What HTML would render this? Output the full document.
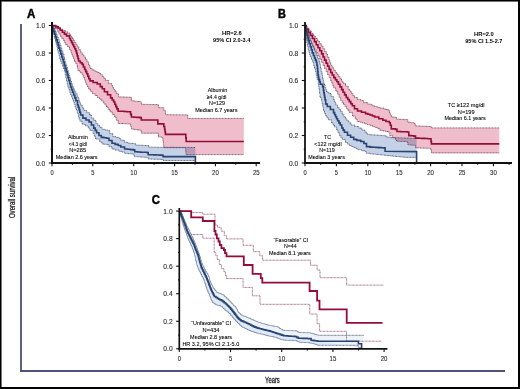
<!DOCTYPE html><html><head><meta charset="utf-8"><style>html,body{margin:0;padding:0;background:#fff;}svg{display:block;font-family:"Liberation Sans",sans-serif;}</style></head><body>
<svg width="520" height="389" viewBox="0 0 520 389">
<rect x="0" y="0" width="520" height="389" fill="#fff"/>
<polygon points="52.0,25.5 54.1,25.6 57.2,25.6 57.2,27.4 60.3,27.4 60.3,29.2 62.9,29.2 62.9,30.5 65.4,30.5 65.4,31.8 67.5,31.8 67.5,33.0 69.5,33.0 69.5,34.3 70.8,34.3 70.8,36.4 72.1,36.4 72.1,38.5 73.4,38.5 73.4,40.5 74.7,40.5 74.7,42.6 76.0,42.6 76.0,44.7 77.2,44.7 77.2,46.7 78.8,46.7 78.8,49.8 80.8,49.8 80.8,52.8 82.3,52.8 82.3,54.9 83.9,54.9 83.9,57.0 85.5,57.0 85.5,59.5 87.0,59.5 87.0,62.0 88.5,62.0 88.5,65.2 90.0,65.2 90.0,68.5 92.0,68.5 92.0,69.8 94.1,69.8 94.1,71.0 96.3,71.0 96.3,72.0 98.5,72.0 98.5,73.0 100.4,73.0 100.4,74.7 102.3,74.7 102.3,76.3 103.8,76.3 103.8,78.3 105.4,78.3 105.4,80.4 108.5,80.4 108.5,83.5 111.6,83.5 111.6,85.6 112.7,85.6 112.7,87.7 113.7,87.7 113.7,89.7 115.2,89.7 115.2,91.8 116.7,91.8 116.7,93.8 118.5,93.8 118.5,96.9 121.3,96.9 121.3,97.0 124.1,97.0 124.1,97.1 126.9,97.1 126.9,97.2 129.7,97.2 129.7,97.3 131.4,97.3 131.4,100.8 134.3,100.8 134.3,101.2 137.2,101.2 137.2,101.5 140.1,101.5 140.1,101.9 141.3,101.9 141.3,104.3 144.4,104.3 144.4,104.4 147.6,104.4 147.6,104.5 150.7,104.5 150.7,104.5 153.9,104.5 153.9,104.6 157.0,104.6 157.0,104.7 158.5,104.7 158.5,107.7 162.4,107.7 163.9,107.7 163.9,110.8 165.5,110.8 165.5,114.7 186.2,114.9 187.7,114.9 187.7,118.4 243.8,118.4 243.8,154.6 186.0,154.6 186.0,151.1 185.7,151.1 185.7,147.7 185.4,147.7 163.8,147.7 163.8,144.3 163.3,144.3 163.3,140.9 162.9,140.9 162.9,137.5 162.4,137.5 162.4,137.0 158.5,137.0 158.5,133.2 157.0,133.2 141.3,133.2 141.3,130.3 140.1,130.3 140.1,129.9 137.2,129.9 137.2,129.5 134.3,129.5 134.3,129.1 131.4,129.1 131.4,126.5 130.6,126.5 130.6,123.9 129.7,123.9 129.7,123.8 126.8,123.8 126.8,123.7 123.9,123.7 123.9,123.5 121.0,123.5 121.0,123.4 118.1,123.4 118.1,120.2 116.3,120.2 116.3,117.0 114.6,117.0 114.6,114.4 112.3,114.4 112.3,111.8 110.0,111.8 110.0,109.4 108.2,109.4 108.2,107.0 106.5,107.0 106.5,105.0 104.9,105.0 104.9,103.0 103.3,103.0 103.3,101.0 101.7,101.0 101.7,99.2 99.6,99.2 99.6,97.5 97.5,97.5 97.5,95.5 95.0,95.5 95.0,93.5 92.5,93.5 92.5,91.3 90.5,91.3 90.5,89.2 88.6,89.2 88.6,86.9 87.4,86.9 87.4,84.6 86.3,84.6 86.3,82.3 85.4,82.3 85.4,80.0 84.5,80.0 84.5,77.3 83.3,77.3 83.3,74.7 82.1,74.7 82.1,72.7 80.0,72.7 80.0,70.6 78.0,70.6 78.0,68.0 77.5,68.0 77.5,65.4 77.0,65.4 77.0,63.5 75.8,63.5 75.8,61.5 74.5,61.5 74.5,59.2 73.7,59.2 73.7,57.0 72.8,57.0 72.8,54.9 71.9,54.9 71.9,52.8 71.1,52.8 71.1,49.8 69.5,49.8 69.5,46.7 67.5,46.7 67.5,44.6 65.4,44.6 65.4,42.5 64.4,42.5 64.4,40.5 63.4,40.5 63.4,38.5 61.8,38.5 61.8,36.4 60.3,36.4 60.3,33.9 58.8,33.9 58.8,31.3 57.2,31.3 57.2,28.7 55.2,28.7 55.2,26.1 53.1,26.1 53.1,25.5 52.0,25.5" fill="#efbdcb" fill-opacity="1.0" stroke="none"/>
<polygon points="52.0,25.5 53.0,25.5 53.0,26.0 54.1,26.0 54.1,28.8 55.1,28.8 55.1,31.5 56.2,31.5 56.2,34.3 57.2,34.3 57.2,37.1 58.3,37.1 58.3,39.8 59.3,39.8 59.3,42.6 60.1,42.6 60.1,45.3 61.0,45.3 61.0,48.1 61.8,48.1 61.8,50.8 62.8,50.8 62.8,53.9 63.9,53.9 63.9,57.0 64.4,57.0 64.4,59.5 64.9,59.5 64.9,62.0 65.8,62.0 65.8,64.7 66.6,64.7 66.6,67.3 67.5,67.3 67.5,70.0 68.2,70.0 68.2,72.7 69.0,72.7 69.0,75.3 69.7,75.3 69.7,78.0 70.6,78.0 70.6,81.0 71.5,81.0 71.5,83.9 72.4,83.9 72.4,86.9 73.6,86.9 73.6,89.2 74.7,89.2 74.7,91.6 75.9,91.6 75.9,93.9 77.3,93.9 77.3,97.3 78.8,97.3 78.8,100.8 79.7,100.8 79.7,102.9 80.5,102.9 80.5,105.0 82.1,105.0 82.1,107.7 83.7,107.7 83.7,110.4 86.8,110.4 86.8,112.7 89.5,112.7 89.5,115.0 91.4,115.0 91.4,118.1 93.7,118.1 93.7,120.4 96.0,120.4 96.0,123.5 97.8,123.5 97.8,125.5 99.7,125.5 99.7,127.4 102.0,127.4 102.0,129.3 104.7,129.3 104.7,129.9 107.4,129.9 107.4,130.5 109.7,130.5 109.7,133.6 112.8,133.6 112.8,136.6 115.9,136.6 115.9,137.4 119.0,137.4 119.0,138.6 120.8,138.6 120.8,140.3 124.6,140.3 124.6,142.2 127.5,142.2 127.5,143.2 130.7,143.2 130.7,143.4 133.8,143.4 133.8,143.7 135.7,143.7 135.7,145.1 138.4,145.1 138.4,145.2 141.2,145.2 141.2,145.3 143.9,145.3 143.9,145.5 146.7,145.5 146.7,145.6 148.7,145.6 148.7,147.2 151.6,147.2 151.6,147.2 154.5,147.2 154.5,147.2 157.5,147.2 157.5,147.3 160.4,147.3 160.4,147.3 163.3,147.3 163.3,147.3 166.2,147.3 166.2,147.3 169.1,147.3 169.1,147.3 172.1,147.3 172.1,147.3 175.0,147.3 175.0,147.4 177.9,147.4 177.9,147.4 180.8,147.4 180.8,147.4 183.7,147.4 183.7,147.4 186.6,147.4 186.6,147.4 189.6,147.4 189.6,147.5 192.5,147.5 192.5,147.5 195.4,147.5 195.4,147.5 195.4,160.5 163.1,160.5 163.1,159.5 162.1,159.5 162.1,159.4 159.3,159.4 159.3,159.3 156.5,159.3 156.5,159.2 153.8,159.2 153.8,159.1 151.0,159.1 151.0,159.0 148.2,159.0 148.2,157.6 146.7,157.6 146.7,157.3 143.6,157.3 143.6,157.1 140.4,157.1 140.4,156.8 137.3,156.8 137.3,156.6 134.2,156.6 134.2,154.2 133.3,154.2 133.3,153.9 130.4,153.9 130.4,153.6 127.5,153.6 127.5,153.3 124.6,153.3 124.6,152.0 122.0,152.0 122.0,151.3 119.0,151.3 119.0,150.1 115.1,150.1 115.1,149.0 112.0,149.0 112.0,146.7 109.0,146.7 109.0,144.7 106.6,144.7 106.6,144.3 104.3,144.3 104.3,144.0 102.0,144.0 102.0,142.0 99.7,142.0 99.7,139.0 97.4,139.0 95.5,139.0 95.5,136.2 94.2,136.2 94.2,133.5 93.0,133.5 93.0,130.4 89.9,130.4 89.9,128.1 88.3,128.1 88.3,125.8 85.3,125.8 85.3,124.3 82.2,124.3 82.2,121.2 79.9,121.2 79.9,118.9 79.1,118.9 79.1,116.6 78.3,116.6 78.3,113.1 77.2,113.1 77.2,109.6 76.0,109.6 76.0,107.1 75.2,107.1 75.2,104.5 74.4,104.5 74.4,102.0 73.6,102.0 73.6,99.7 72.6,99.7 72.6,97.3 71.7,97.3 71.7,95.0 70.7,95.0 70.7,92.3 69.7,92.3 69.7,89.6 68.8,89.6 68.8,86.9 67.8,86.9 67.8,83.9 67.1,83.9 67.1,81.0 66.5,81.0 66.5,78.0 65.8,78.0 65.8,74.8 65.2,74.8 65.2,71.6 64.6,71.6 64.6,68.9 63.5,68.9 63.5,66.2 62.4,66.2 62.4,63.5 61.3,63.5 61.3,61.2 60.5,61.2 60.5,59.0 59.8,59.0 59.8,55.9 59.0,55.9 59.0,52.8 58.2,52.8 58.2,50.1 57.5,50.1 57.5,47.3 56.9,47.3 56.9,44.6 56.2,44.6 56.2,41.9 55.5,41.9 55.5,39.1 54.8,39.1 54.8,36.4 54.1,36.4 54.1,33.7 53.4,33.7 53.4,30.9 52.8,30.9 52.8,28.2 52.1,28.2 52.0,27.0" fill="#c5d1e6" fill-opacity="1.0" stroke="none" style="mix-blend-mode:multiply"/>
<polyline points="52.0,25.5 54.1,25.6 57.2,25.6 57.2,27.4 60.3,27.4 60.3,29.2 62.9,29.2 62.9,30.5 65.4,30.5 65.4,31.8 67.5,31.8 67.5,33.0 69.5,33.0 69.5,34.3 70.8,34.3 70.8,36.4 72.1,36.4 72.1,38.5 73.4,38.5 73.4,40.5 74.7,40.5 74.7,42.6 76.0,42.6 76.0,44.7 77.2,44.7 77.2,46.7 78.8,46.7 78.8,49.8 80.8,49.8 80.8,52.8 82.3,52.8 82.3,54.9 83.9,54.9 83.9,57.0 85.5,57.0 85.5,59.5 87.0,59.5 87.0,62.0 88.5,62.0 88.5,65.2 90.0,65.2 90.0,68.5 92.0,68.5 92.0,69.8 94.1,69.8 94.1,71.0 96.3,71.0 96.3,72.0 98.5,72.0 98.5,73.0 100.4,73.0 100.4,74.7 102.3,74.7 102.3,76.3 103.8,76.3 103.8,78.3 105.4,78.3 105.4,80.4 108.5,80.4 108.5,83.5 111.6,83.5 111.6,85.6 112.7,85.6 112.7,87.7 113.7,87.7 113.7,89.7 115.2,89.7 115.2,91.8 116.7,91.8 116.7,93.8 118.5,93.8 118.5,96.9 121.3,96.9 121.3,97.0 124.1,97.0 124.1,97.1 126.9,97.1 126.9,97.2 129.7,97.2 129.7,97.3 131.4,97.3 131.4,100.8 134.3,100.8 134.3,101.2 137.2,101.2 137.2,101.5 140.1,101.5 140.1,101.9 141.3,101.9 141.3,104.3 144.4,104.3 144.4,104.4 147.6,104.4 147.6,104.5 150.7,104.5 150.7,104.5 153.9,104.5 153.9,104.6 157.0,104.6 157.0,104.7 158.5,104.7 158.5,107.7 162.4,107.7 163.9,107.7 163.9,110.8 165.5,110.8 165.5,114.7 186.2,114.9 187.7,114.9 187.7,118.4 243.8,118.4" fill="none" stroke="#6e3a4c" stroke-width="0.8" stroke-linejoin="miter" stroke-dasharray="1 0.5"/>
<polyline points="52.0,25.5 53.1,25.5 53.1,26.1 55.2,26.1 55.2,28.7 57.2,28.7 57.2,31.3 58.8,31.3 58.8,33.9 60.3,33.9 60.3,36.4 61.8,36.4 61.8,38.5 63.4,38.5 63.4,40.5 64.4,40.5 64.4,42.5 65.4,42.5 65.4,44.6 67.5,44.6 67.5,46.7 69.5,46.7 69.5,49.8 71.1,49.8 71.1,52.8 71.9,52.8 71.9,54.9 72.8,54.9 72.8,57.0 73.7,57.0 73.7,59.2 74.5,59.2 74.5,61.5 75.8,61.5 75.8,63.5 77.0,63.5 77.0,65.4 77.5,65.4 77.5,68.0 78.0,68.0 78.0,70.6 80.0,70.6 80.0,72.7 82.1,72.7 82.1,74.7 83.3,74.7 83.3,77.3 84.5,77.3 84.5,80.0 85.4,80.0 85.4,82.3 86.3,82.3 86.3,84.6 87.4,84.6 87.4,86.9 88.6,86.9 88.6,89.2 90.5,89.2 90.5,91.3 92.5,91.3 92.5,93.5 95.0,93.5 95.0,95.5 97.5,95.5 97.5,97.5 99.6,97.5 99.6,99.2 101.7,99.2 101.7,101.0 103.3,101.0 103.3,103.0 104.9,103.0 104.9,105.0 106.5,105.0 106.5,107.0 108.2,107.0 108.2,109.4 110.0,109.4 110.0,111.8 112.3,111.8 112.3,114.4 114.6,114.4 114.6,117.0 116.3,117.0 116.3,120.2 118.1,120.2 118.1,123.4 121.0,123.4 121.0,123.5 123.9,123.5 123.9,123.7 126.8,123.7 126.8,123.8 129.7,123.8 129.7,123.9 130.6,123.9 130.6,126.5 131.4,126.5 131.4,129.1 134.3,129.1 134.3,129.5 137.2,129.5 137.2,129.9 140.1,129.9 140.1,130.3 141.3,130.3 141.3,133.2 157.0,133.2 158.5,133.2 158.5,137.0 162.4,137.0 162.4,137.5 162.9,137.5 162.9,140.9 163.3,140.9 163.3,144.3 163.8,144.3 163.8,147.7 185.4,147.7 185.7,147.7 185.7,151.1 186.0,151.1 186.0,154.6 243.8,154.6" fill="none" stroke="#6e3a4c" stroke-width="0.8" stroke-linejoin="miter" stroke-dasharray="1 0.5"/>
<polyline points="52.0,25.5 53.0,25.5 53.0,26.0 54.1,26.0 54.1,28.8 55.1,28.8 55.1,31.5 56.2,31.5 56.2,34.3 57.2,34.3 57.2,37.1 58.3,37.1 58.3,39.8 59.3,39.8 59.3,42.6 60.1,42.6 60.1,45.3 61.0,45.3 61.0,48.1 61.8,48.1 61.8,50.8 62.8,50.8 62.8,53.9 63.9,53.9 63.9,57.0 64.4,57.0 64.4,59.5 64.9,59.5 64.9,62.0 65.8,62.0 65.8,64.7 66.6,64.7 66.6,67.3 67.5,67.3 67.5,70.0 68.2,70.0 68.2,72.7 69.0,72.7 69.0,75.3 69.7,75.3 69.7,78.0 70.6,78.0 70.6,81.0 71.5,81.0 71.5,83.9 72.4,83.9 72.4,86.9 73.6,86.9 73.6,89.2 74.7,89.2 74.7,91.6 75.9,91.6 75.9,93.9 77.3,93.9 77.3,97.3 78.8,97.3 78.8,100.8 79.7,100.8 79.7,102.9 80.5,102.9 80.5,105.0 82.1,105.0 82.1,107.7 83.7,107.7 83.7,110.4 86.8,110.4 86.8,112.7 89.5,112.7 89.5,115.0 91.4,115.0 91.4,118.1 93.7,118.1 93.7,120.4 96.0,120.4 96.0,123.5 97.8,123.5 97.8,125.5 99.7,125.5 99.7,127.4 102.0,127.4 102.0,129.3 104.7,129.3 104.7,129.9 107.4,129.9 107.4,130.5 109.7,130.5 109.7,133.6 112.8,133.6 112.8,136.6 115.9,136.6 115.9,137.4 119.0,137.4 119.0,138.6 120.8,138.6 120.8,140.3 124.6,140.3 124.6,142.2 127.5,142.2 127.5,143.2 130.7,143.2 130.7,143.4 133.8,143.4 133.8,143.7 135.7,143.7 135.7,145.1 138.4,145.1 138.4,145.2 141.2,145.2 141.2,145.3 143.9,145.3 143.9,145.5 146.7,145.5 146.7,145.6 148.7,145.6 148.7,147.2 151.6,147.2 151.6,147.2 154.5,147.2 154.5,147.2 157.5,147.2 157.5,147.3 160.4,147.3 160.4,147.3 163.3,147.3 163.3,147.3 166.2,147.3 166.2,147.3 169.1,147.3 169.1,147.3 172.1,147.3 172.1,147.3 175.0,147.3 175.0,147.4 177.9,147.4 177.9,147.4 180.8,147.4 180.8,147.4 183.7,147.4 183.7,147.4 186.6,147.4 186.6,147.4 189.6,147.4 189.6,147.5 192.5,147.5 192.5,147.5 195.4,147.5 195.4,147.5" fill="none" stroke="#3c4c6e" stroke-width="0.8" stroke-linejoin="miter" stroke-dasharray="1 0.5"/>
<polyline points="52.0,27.0 52.1,28.2 52.8,28.2 52.8,30.9 53.4,30.9 53.4,33.7 54.1,33.7 54.1,36.4 54.8,36.4 54.8,39.1 55.5,39.1 55.5,41.9 56.2,41.9 56.2,44.6 56.9,44.6 56.9,47.3 57.5,47.3 57.5,50.1 58.2,50.1 58.2,52.8 59.0,52.8 59.0,55.9 59.8,55.9 59.8,59.0 60.5,59.0 60.5,61.2 61.3,61.2 61.3,63.5 62.4,63.5 62.4,66.2 63.5,66.2 63.5,68.9 64.6,68.9 64.6,71.6 65.2,71.6 65.2,74.8 65.8,74.8 65.8,78.0 66.5,78.0 66.5,81.0 67.1,81.0 67.1,83.9 67.8,83.9 67.8,86.9 68.8,86.9 68.8,89.6 69.7,89.6 69.7,92.3 70.7,92.3 70.7,95.0 71.7,95.0 71.7,97.3 72.6,97.3 72.6,99.7 73.6,99.7 73.6,102.0 74.4,102.0 74.4,104.5 75.2,104.5 75.2,107.1 76.0,107.1 76.0,109.6 77.2,109.6 77.2,113.1 78.3,113.1 78.3,116.6 79.1,116.6 79.1,118.9 79.9,118.9 79.9,121.2 82.2,121.2 82.2,124.3 85.3,124.3 85.3,125.8 88.3,125.8 88.3,128.1 89.9,128.1 89.9,130.4 93.0,130.4 93.0,133.5 94.2,133.5 94.2,136.2 95.5,136.2 95.5,139.0 97.4,139.0 99.7,139.0 99.7,142.0 102.0,142.0 102.0,144.0 104.3,144.0 104.3,144.3 106.6,144.3 106.6,144.7 109.0,144.7 109.0,146.7 112.0,146.7 112.0,149.0 115.1,149.0 115.1,150.1 119.0,150.1 119.0,151.3 122.0,151.3 122.0,152.0 124.6,152.0 124.6,153.3 127.5,153.3 127.5,153.6 130.4,153.6 130.4,153.9 133.3,153.9 133.3,154.2 134.2,154.2 134.2,156.6 137.3,156.6 137.3,156.8 140.4,156.8 140.4,157.1 143.6,157.1 143.6,157.3 146.7,157.3 146.7,157.6 148.2,157.6 148.2,159.0 151.0,159.0 151.0,159.1 153.8,159.1 153.8,159.2 156.5,159.2 156.5,159.3 159.3,159.3 159.3,159.4 162.1,159.4 162.1,159.5 163.1,159.5 163.1,160.5 195.4,160.5" fill="none" stroke="#3c4c6e" stroke-width="0.8" stroke-linejoin="miter" stroke-dasharray="1 0.5"/>
<polyline points="52.0,25.5 53.1,25.6 55.7,25.6 55.7,26.9 58.2,26.9 58.2,28.2 60.2,28.2 60.2,30.2 62.3,30.2 62.3,32.3 64.4,32.3 64.4,34.1 66.5,34.1 66.5,35.9 69.5,35.9 69.5,38.5 70.5,38.5 70.5,40.5 71.6,40.5 71.6,42.6 72.7,42.6 72.7,44.7 73.7,44.7 73.7,46.7 74.7,46.7 74.7,48.8 75.7,48.8 75.7,50.8 76.5,50.8 76.5,53.3 77.2,53.3 77.2,55.9 77.9,55.9 77.9,58.5 78.6,58.5 78.6,61.0 80.3,61.0 80.3,62.7 82.1,62.7 82.1,64.4 83.4,64.4 83.4,67.0 84.7,67.0 84.7,69.5 85.7,69.5 85.7,71.6 86.7,71.6 86.7,73.7 87.8,73.7 87.8,76.2 88.8,76.2 88.8,78.8 90.0,78.8 90.0,80.9 93.1,80.9 93.1,82.5 97.2,82.5 97.2,84.0 100.3,84.0 100.3,86.6 102.3,86.6 102.3,88.7 104.4,88.7 104.4,91.7 107.5,91.7 107.5,94.8 110.6,94.8 110.6,97.9 112.2,97.9 112.2,100.0 113.7,100.0 113.7,102.0 114.8,102.0 114.8,104.3 115.8,104.3 115.8,106.6 116.9,106.6 116.9,108.9 118.1,108.9 118.1,111.2 121.0,111.2 121.0,111.3 123.9,111.3 123.9,111.5 126.8,111.5 126.8,111.7 129.7,111.7 129.7,111.8 130.6,111.8 130.6,114.4 131.4,114.4 131.4,117.0 134.3,117.0 134.3,117.2 137.2,117.2 137.2,117.4 140.1,117.4 140.1,117.6 141.3,117.6 141.3,119.9 157.0,120.0 157.8,120.0 157.8,123.9 163.0,123.9 163.8,123.9 163.8,126.5 164.6,126.5 164.6,129.2 165.0,129.2 165.0,131.8 165.4,131.8 165.4,134.4 185.4,134.4 185.8,134.4 185.8,137.9 186.2,137.9 186.2,141.5 243.8,141.5" fill="none" stroke="#940c3a" stroke-width="1.6" stroke-linejoin="miter" />
<polyline points="52.0,25.5 52.1,26.1 52.9,26.1 52.9,28.8 53.8,28.8 53.8,31.6 54.6,31.6 54.6,34.3 55.5,34.3 55.5,37.1 56.3,37.1 56.3,39.8 57.2,39.8 57.2,42.6 58.1,42.6 58.1,45.3 58.9,45.3 58.9,48.1 59.8,48.1 59.8,50.8 60.8,50.8 60.8,53.9 61.8,53.9 61.8,57.0 62.6,57.0 62.6,59.5 63.4,59.5 63.4,62.0 64.2,62.0 64.2,65.2 65.1,65.2 65.1,68.5 66.2,68.5 66.2,71.6 67.2,71.6 67.2,74.7 68.0,74.7 68.0,77.6 68.7,77.6 68.7,80.5 69.7,80.5 69.7,83.8 70.6,83.8 70.6,87.0 71.6,87.0 71.6,89.7 72.6,89.7 72.6,92.3 73.6,92.3 73.6,95.0 74.8,95.0 74.8,97.9 75.9,97.9 75.9,100.8 77.5,100.8 77.5,105.0 78.3,105.0 78.3,107.3 79.1,107.3 79.1,109.6 79.8,109.6 79.8,112.3 80.6,112.3 80.6,115.0 82.9,115.0 82.9,118.1 86.0,118.1 86.0,120.0 89.1,120.0 89.1,122.0 91.4,122.0 91.4,125.0 93.7,125.0 93.7,128.1 95.2,128.1 95.2,130.4 96.6,130.4 96.6,132.8 98.9,132.8 98.9,135.5 101.3,135.5 101.3,137.4 103.9,137.4 103.9,137.8 106.6,137.8 106.6,138.2 109.0,138.2 109.0,140.5 112.0,140.5 112.0,143.2 115.1,143.2 115.1,144.4 118.2,144.4 118.2,145.5 120.8,145.5 120.8,147.0 124.6,147.0 124.6,149.0 127.5,149.0 127.5,149.3 130.4,149.3 130.4,149.6 133.3,149.6 133.3,149.9 134.7,149.9 134.7,151.8 137.7,151.8 137.7,152.0 140.7,152.0 140.7,152.2 143.7,152.2 143.7,152.3 146.7,152.3 146.7,152.5 148.2,152.5 148.2,154.7 151.0,154.7 151.0,154.8 153.8,154.8 153.8,154.9 156.5,154.9 156.5,155.0 159.3,155.0 159.3,155.1 162.1,155.1 162.1,155.2 163.1,155.2 163.1,156.6 195.4,156.6 195.4,163.0" fill="none" stroke="#284472" stroke-width="1.6" stroke-linejoin="miter" />
<polygon points="305.0,25.5 306.5,25.5 306.5,26.5 307.2,26.5 307.2,28.2 309.2,28.2 309.2,30.8 311.3,30.8 311.3,33.4 313.4,33.4 313.4,36.0 315.4,36.0 315.4,38.5 317.4,38.5 317.4,41.1 319.5,41.1 319.5,43.7 321.3,43.7 321.3,46.2 323.1,46.2 323.1,48.8 324.6,48.8 324.6,51.3 326.2,51.3 326.2,53.9 327.5,53.9 327.5,57.0 328.8,57.0 328.8,60.0 329.8,60.0 329.8,62.6 330.7,62.6 330.7,65.3 332.2,65.3 332.2,67.8 333.8,67.8 333.8,70.4 335.4,70.4 335.4,72.5 336.9,72.5 336.9,74.5 338.4,74.5 338.4,76.6 340.0,76.6 340.0,78.7 341.5,78.7 341.5,81.0 343.0,81.0 343.0,83.3 345.5,83.3 345.5,86.0 348.2,86.0 348.2,89.3 349.8,89.3 349.8,91.3 351.3,91.3 351.3,93.4 352.9,93.4 352.9,95.5 354.4,95.5 354.4,97.5 357.5,97.5 357.5,99.5 360.6,99.5 360.6,100.6 363.7,100.6 363.7,102.6 367.8,102.6 367.8,104.2 371.9,104.2 371.9,105.7 374.7,105.7 374.7,106.5 377.2,106.5 377.2,107.3 379.8,107.3 379.8,108.1 383.9,108.1 383.9,109.1 386.2,109.1 386.2,109.6 388.5,109.6 388.5,110.1 389.4,110.1 389.4,112.5 390.3,112.5 390.3,115.0 391.3,115.0 391.3,117.1 395.4,117.1 395.4,117.6 396.5,117.6 396.5,119.1 399.2,119.1 399.2,119.3 402.0,119.3 402.0,119.4 404.7,119.4 404.7,119.6 407.8,119.6 407.8,122.2 410.9,122.2 410.9,122.8 414.0,122.8 414.0,123.4 415.3,123.4 415.3,125.9 418.4,125.9 418.4,126.0 421.5,126.0 421.5,126.2 424.5,126.2 424.5,126.3 427.6,126.3 427.6,126.5 430.7,126.5 430.7,126.6 431.4,126.6 431.4,127.9 499.3,127.9 499.3,152.9 431.4,152.9 431.4,150.7 431.0,150.7 431.0,148.4 430.7,148.4 430.7,148.3 427.7,148.3 427.7,148.2 424.6,148.2 424.6,148.1 421.6,148.1 421.6,148.0 418.5,148.0 418.5,147.9 415.5,147.9 415.5,145.3 413.9,145.3 413.9,145.1 410.9,145.1 410.9,144.8 407.8,144.8 407.8,141.7 406.7,141.7 406.7,141.5 403.3,141.5 403.3,141.4 399.9,141.4 399.9,141.2 396.5,141.2 396.5,139.7 395.4,139.7 395.4,137.6 392.6,137.6 392.6,135.6 389.8,135.6 389.8,132.0 388.2,132.0 388.2,131.5 385.5,131.5 385.5,130.9 382.7,130.9 382.7,130.4 380.0,130.4 380.0,128.7 377.8,128.7 377.8,127.6 375.2,127.6 375.2,126.6 372.6,126.6 372.6,125.5 370.1,125.5 370.1,124.5 367.5,124.5 367.5,123.8 364.9,123.8 364.9,123.0 362.3,123.0 362.3,122.2 359.8,122.2 359.8,121.5 357.2,121.5 357.2,119.0 355.2,119.0 355.2,116.0 352.5,116.0 352.5,112.7 349.6,112.7 349.6,110.7 348.1,110.7 348.1,108.7 346.5,108.7 346.5,106.6 345.0,106.6 345.0,104.5 343.5,104.5 343.5,102.4 342.1,102.4 342.1,100.3 340.7,100.3 340.7,97.2 339.1,97.2 339.1,94.1 337.6,94.1 337.6,91.0 335.7,91.0 335.7,87.9 333.8,87.9 333.8,85.5 332.8,85.5 332.8,83.1 331.7,83.1 331.7,80.7 330.7,80.7 330.7,77.6 329.1,77.6 329.1,74.5 327.6,74.5 327.6,71.5 326.1,71.5 326.1,68.4 324.5,68.4 324.5,65.3 323.0,65.3 323.0,62.2 321.5,62.2 321.5,59.1 319.8,59.1 319.8,56.0 318.0,56.0 318.0,52.9 316.2,52.9 316.2,49.8 314.4,49.8 314.4,46.8 312.9,46.8 312.9,43.7 311.3,43.7 311.3,40.6 309.8,40.6 309.8,37.5 308.2,37.5 308.2,34.6 307.4,34.6 307.4,31.8 306.6,31.8 306.6,28.9 305.8,28.9 305.8,26.0 305.0,26.0" fill="#efbdcb" fill-opacity="1.0" stroke="none"/>
<polygon points="305.0,25.5 306.5,25.5 306.5,28.0 307.2,28.0 307.2,30.6 307.9,30.6 307.9,33.2 308.6,33.2 308.6,35.9 309.3,35.9 309.3,38.5 310.3,38.5 310.3,40.9 311.3,40.9 311.3,43.3 312.3,43.3 312.3,45.7 313.3,45.7 313.3,48.1 314.4,48.1 314.4,50.5 315.4,50.5 315.4,52.9 316.4,52.9 316.4,55.5 317.5,55.5 317.5,58.0 319.0,58.0 319.0,61.2 319.8,61.2 319.8,64.8 320.5,64.8 320.5,68.4 321.2,68.4 321.2,71.7 322.0,71.7 322.0,75.0 322.5,75.0 322.5,77.5 323.0,77.5 323.0,80.0 323.5,80.0 323.5,82.2 324.0,82.2 324.0,84.5 325.0,84.5 325.0,87.6 325.8,87.6 325.8,89.8 326.5,89.8 326.5,92.0 328.8,92.0 328.8,93.5 331.1,93.5 331.1,96.6 333.4,96.6 333.4,99.7 334.6,99.7 334.6,102.3 335.8,102.3 335.8,105.0 337.6,105.0 337.6,107.5 339.1,107.5 339.1,109.5 340.7,109.5 340.7,111.6 342.2,111.6 342.2,114.2 343.8,114.2 343.8,116.7 345.4,116.7 345.4,118.8 346.9,118.8 346.9,120.8 348.9,120.8 348.9,122.9 351.0,122.9 351.0,125.0 354.7,125.0 354.7,126.5 358.8,126.5 358.8,128.1 361.9,128.1 361.9,130.1 365.0,130.1 365.0,132.2 367.0,132.2 367.0,134.3 370.0,134.3 370.0,134.8 372.9,134.8 372.9,135.0 375.9,135.0 375.9,135.1 378.8,135.1 378.8,135.3 381.5,135.3 381.5,135.6 384.1,135.6 384.1,135.8 386.2,135.8 386.2,137.1 390.3,137.1 390.3,137.6 393.2,137.6 393.2,137.7 396.1,137.7 396.1,137.8 399.1,137.8 399.1,137.9 402.0,137.9 402.0,138.0 404.9,138.0 404.9,138.1 407.8,138.1 407.8,138.2 410.8,138.2 410.8,138.3 413.7,138.3 413.7,138.4 416.6,138.4 416.6,138.5 416.6,157.4 405.0,157.4 405.0,157.1 402.1,157.1 402.1,156.8 399.2,156.8 399.2,156.5 396.2,156.5 396.2,156.2 393.3,156.2 393.3,155.9 390.4,155.9 390.4,155.6 387.5,155.6 387.5,155.3 384.6,155.3 384.6,155.0 381.7,155.0 381.7,154.7 378.8,154.7 378.8,154.4 375.8,154.4 375.8,154.1 372.9,154.1 372.9,153.8 370.0,153.8 370.0,153.3 366.5,153.3 366.5,151.7 365.0,151.7 365.0,150.7 361.9,150.7 361.9,149.7 357.8,149.7 357.8,148.6 355.8,148.6 355.8,147.6 353.7,147.6 353.7,146.6 351.6,146.6 351.6,145.6 349.5,145.6 349.5,144.1 347.4,144.1 347.4,142.5 345.4,142.5 345.4,139.4 342.3,139.4 342.3,137.4 340.8,137.4 340.8,135.3 339.3,135.3 339.3,132.7 338.0,132.7 338.0,130.0 336.6,130.0 336.6,127.0 334.5,127.0 334.5,125.0 333.0,125.0 333.0,122.9 331.5,122.9 331.5,119.8 328.4,119.8 328.4,117.8 326.9,117.8 326.9,115.7 325.5,115.7 325.5,113.2 324.5,113.2 324.5,110.6 323.5,110.6 323.5,107.0 322.8,107.0 322.8,103.5 322.0,103.5 322.0,100.8 321.6,100.8 321.6,98.1 321.1,98.1 321.1,97.4 320.0,97.4 320.0,93.5 319.6,93.5 319.6,91.2 319.3,91.2 319.3,88.9 319.0,88.9 319.0,86.6 318.6,86.6 318.6,84.3 318.3,84.3 318.3,80.0 317.3,80.0 317.3,77.7 316.8,77.7 316.8,75.3 316.3,75.3 316.3,71.8 315.4,71.8 315.4,68.4 314.5,68.4 314.5,65.3 313.6,65.3 313.6,62.2 312.7,62.2 312.7,59.6 311.5,59.6 311.5,57.0 310.3,57.0 310.3,54.6 309.6,54.6 309.6,52.2 308.9,52.2 308.9,49.8 308.2,49.8 308.2,46.2 307.4,46.2 307.4,42.6 306.7,42.6 306.7,39.0 306.2,39.0 306.2,35.4 305.7,35.4 305.7,32.6 305.5,32.6 305.5,29.8 305.2,29.8 305.2,27.0 305.0,27.0" fill="#c5d1e6" fill-opacity="1.0" stroke="none" style="mix-blend-mode:multiply"/>
<polyline points="305.0,25.5 306.5,25.5 306.5,26.5 307.2,26.5 307.2,28.2 309.2,28.2 309.2,30.8 311.3,30.8 311.3,33.4 313.4,33.4 313.4,36.0 315.4,36.0 315.4,38.5 317.4,38.5 317.4,41.1 319.5,41.1 319.5,43.7 321.3,43.7 321.3,46.2 323.1,46.2 323.1,48.8 324.6,48.8 324.6,51.3 326.2,51.3 326.2,53.9 327.5,53.9 327.5,57.0 328.8,57.0 328.8,60.0 329.8,60.0 329.8,62.6 330.7,62.6 330.7,65.3 332.2,65.3 332.2,67.8 333.8,67.8 333.8,70.4 335.4,70.4 335.4,72.5 336.9,72.5 336.9,74.5 338.4,74.5 338.4,76.6 340.0,76.6 340.0,78.7 341.5,78.7 341.5,81.0 343.0,81.0 343.0,83.3 345.5,83.3 345.5,86.0 348.2,86.0 348.2,89.3 349.8,89.3 349.8,91.3 351.3,91.3 351.3,93.4 352.9,93.4 352.9,95.5 354.4,95.5 354.4,97.5 357.5,97.5 357.5,99.5 360.6,99.5 360.6,100.6 363.7,100.6 363.7,102.6 367.8,102.6 367.8,104.2 371.9,104.2 371.9,105.7 374.7,105.7 374.7,106.5 377.2,106.5 377.2,107.3 379.8,107.3 379.8,108.1 383.9,108.1 383.9,109.1 386.2,109.1 386.2,109.6 388.5,109.6 388.5,110.1 389.4,110.1 389.4,112.5 390.3,112.5 390.3,115.0 391.3,115.0 391.3,117.1 395.4,117.1 395.4,117.6 396.5,117.6 396.5,119.1 399.2,119.1 399.2,119.3 402.0,119.3 402.0,119.4 404.7,119.4 404.7,119.6 407.8,119.6 407.8,122.2 410.9,122.2 410.9,122.8 414.0,122.8 414.0,123.4 415.3,123.4 415.3,125.9 418.4,125.9 418.4,126.0 421.5,126.0 421.5,126.2 424.5,126.2 424.5,126.3 427.6,126.3 427.6,126.5 430.7,126.5 430.7,126.6 431.4,126.6 431.4,127.9 499.3,127.9" fill="none" stroke="#6e3a4c" stroke-width="0.8" stroke-linejoin="miter" stroke-dasharray="1 0.5"/>
<polyline points="305.0,26.0 305.8,26.0 305.8,28.9 306.6,28.9 306.6,31.8 307.4,31.8 307.4,34.6 308.2,34.6 308.2,37.5 309.8,37.5 309.8,40.6 311.3,40.6 311.3,43.7 312.9,43.7 312.9,46.8 314.4,46.8 314.4,49.8 316.2,49.8 316.2,52.9 318.0,52.9 318.0,56.0 319.8,56.0 319.8,59.1 321.5,59.1 321.5,62.2 323.0,62.2 323.0,65.3 324.5,65.3 324.5,68.4 326.1,68.4 326.1,71.5 327.6,71.5 327.6,74.5 329.1,74.5 329.1,77.6 330.7,77.6 330.7,80.7 331.7,80.7 331.7,83.1 332.8,83.1 332.8,85.5 333.8,85.5 333.8,87.9 335.7,87.9 335.7,91.0 337.6,91.0 337.6,94.1 339.1,94.1 339.1,97.2 340.7,97.2 340.7,100.3 342.1,100.3 342.1,102.4 343.5,102.4 343.5,104.5 345.0,104.5 345.0,106.6 346.5,106.6 346.5,108.7 348.1,108.7 348.1,110.7 349.6,110.7 349.6,112.7 352.5,112.7 352.5,116.0 355.2,116.0 355.2,119.0 357.2,119.0 357.2,121.5 359.8,121.5 359.8,122.2 362.3,122.2 362.3,123.0 364.9,123.0 364.9,123.8 367.5,123.8 367.5,124.5 370.1,124.5 370.1,125.5 372.6,125.5 372.6,126.6 375.2,126.6 375.2,127.6 377.8,127.6 377.8,128.7 380.0,128.7 380.0,130.4 382.7,130.4 382.7,130.9 385.5,130.9 385.5,131.5 388.2,131.5 388.2,132.0 389.8,132.0 389.8,135.6 392.6,135.6 392.6,137.6 395.4,137.6 395.4,139.7 396.5,139.7 396.5,141.2 399.9,141.2 399.9,141.4 403.3,141.4 403.3,141.5 406.7,141.5 406.7,141.7 407.8,141.7 407.8,144.8 410.9,144.8 410.9,145.1 413.9,145.1 413.9,145.3 415.5,145.3 415.5,147.9 418.5,147.9 418.5,148.0 421.6,148.0 421.6,148.1 424.6,148.1 424.6,148.2 427.7,148.2 427.7,148.3 430.7,148.3 430.7,148.4 431.0,148.4 431.0,150.7 431.4,150.7 431.4,152.9 499.3,152.9" fill="none" stroke="#6e3a4c" stroke-width="0.8" stroke-linejoin="miter" stroke-dasharray="1 0.5"/>
<polyline points="305.0,25.5 306.5,25.5 306.5,28.0 307.2,28.0 307.2,30.6 307.9,30.6 307.9,33.2 308.6,33.2 308.6,35.9 309.3,35.9 309.3,38.5 310.3,38.5 310.3,40.9 311.3,40.9 311.3,43.3 312.3,43.3 312.3,45.7 313.3,45.7 313.3,48.1 314.4,48.1 314.4,50.5 315.4,50.5 315.4,52.9 316.4,52.9 316.4,55.5 317.5,55.5 317.5,58.0 319.0,58.0 319.0,61.2 319.8,61.2 319.8,64.8 320.5,64.8 320.5,68.4 321.2,68.4 321.2,71.7 322.0,71.7 322.0,75.0 322.5,75.0 322.5,77.5 323.0,77.5 323.0,80.0 323.5,80.0 323.5,82.2 324.0,82.2 324.0,84.5 325.0,84.5 325.0,87.6 325.8,87.6 325.8,89.8 326.5,89.8 326.5,92.0 328.8,92.0 328.8,93.5 331.1,93.5 331.1,96.6 333.4,96.6 333.4,99.7 334.6,99.7 334.6,102.3 335.8,102.3 335.8,105.0 337.6,105.0 337.6,107.5 339.1,107.5 339.1,109.5 340.7,109.5 340.7,111.6 342.2,111.6 342.2,114.2 343.8,114.2 343.8,116.7 345.4,116.7 345.4,118.8 346.9,118.8 346.9,120.8 348.9,120.8 348.9,122.9 351.0,122.9 351.0,125.0 354.7,125.0 354.7,126.5 358.8,126.5 358.8,128.1 361.9,128.1 361.9,130.1 365.0,130.1 365.0,132.2 367.0,132.2 367.0,134.3 370.0,134.3 370.0,134.8 372.9,134.8 372.9,135.0 375.9,135.0 375.9,135.1 378.8,135.1 378.8,135.3 381.5,135.3 381.5,135.6 384.1,135.6 384.1,135.8 386.2,135.8 386.2,137.1 390.3,137.1 390.3,137.6 393.2,137.6 393.2,137.7 396.1,137.7 396.1,137.8 399.1,137.8 399.1,137.9 402.0,137.9 402.0,138.0 404.9,138.0 404.9,138.1 407.8,138.1 407.8,138.2 410.8,138.2 410.8,138.3 413.7,138.3 413.7,138.4 416.6,138.4 416.6,138.5" fill="none" stroke="#3c4c6e" stroke-width="0.8" stroke-linejoin="miter" stroke-dasharray="1 0.5"/>
<polyline points="305.0,27.0 305.2,27.0 305.2,29.8 305.5,29.8 305.5,32.6 305.7,32.6 305.7,35.4 306.2,35.4 306.2,39.0 306.7,39.0 306.7,42.6 307.4,42.6 307.4,46.2 308.2,46.2 308.2,49.8 308.9,49.8 308.9,52.2 309.6,52.2 309.6,54.6 310.3,54.6 310.3,57.0 311.5,57.0 311.5,59.6 312.7,59.6 312.7,62.2 313.6,62.2 313.6,65.3 314.5,65.3 314.5,68.4 315.4,68.4 315.4,71.8 316.3,71.8 316.3,75.3 316.8,75.3 316.8,77.7 317.3,77.7 317.3,80.0 318.3,80.0 318.3,84.3 318.6,84.3 318.6,86.6 319.0,86.6 319.0,88.9 319.3,88.9 319.3,91.2 319.6,91.2 319.6,93.5 320.0,93.5 320.0,97.4 321.1,97.4 321.1,98.1 321.6,98.1 321.6,100.8 322.0,100.8 322.0,103.5 322.8,103.5 322.8,107.0 323.5,107.0 323.5,110.6 324.5,110.6 324.5,113.2 325.5,113.2 325.5,115.7 326.9,115.7 326.9,117.8 328.4,117.8 328.4,119.8 331.5,119.8 331.5,122.9 333.0,122.9 333.0,125.0 334.5,125.0 334.5,127.0 336.6,127.0 336.6,130.0 338.0,130.0 338.0,132.7 339.3,132.7 339.3,135.3 340.8,135.3 340.8,137.4 342.3,137.4 342.3,139.4 345.4,139.4 345.4,142.5 347.4,142.5 347.4,144.1 349.5,144.1 349.5,145.6 351.6,145.6 351.6,146.6 353.7,146.6 353.7,147.6 355.8,147.6 355.8,148.6 357.8,148.6 357.8,149.7 361.9,149.7 361.9,150.7 365.0,150.7 365.0,151.7 366.5,151.7 366.5,153.3 370.0,153.3 370.0,153.8 372.9,153.8 372.9,154.1 375.8,154.1 375.8,154.4 378.8,154.4 378.8,154.7 381.7,154.7 381.7,155.0 384.6,155.0 384.6,155.3 387.5,155.3 387.5,155.6 390.4,155.6 390.4,155.9 393.3,155.9 393.3,156.2 396.2,156.2 396.2,156.5 399.2,156.5 399.2,156.8 402.1,156.8 402.1,157.1 405.0,157.1 405.0,157.4 416.6,157.4" fill="none" stroke="#3c4c6e" stroke-width="0.8" stroke-linejoin="miter" stroke-dasharray="1 0.5"/>
<polyline points="305.0,25.5 306.2,25.5 306.2,29.3 308.2,29.3 308.2,32.4 310.3,32.4 310.3,35.4 312.4,35.4 312.4,38.5 314.4,38.5 314.4,41.6 316.2,41.6 316.2,44.7 318.0,44.7 318.0,47.8 319.8,47.8 319.8,50.8 321.6,50.8 321.6,53.9 323.1,53.9 323.1,57.0 324.5,57.0 324.5,60.1 326.1,60.1 326.1,63.2 327.6,63.2 327.6,66.3 329.1,66.3 329.1,69.4 330.7,69.4 330.7,72.5 332.2,72.5 332.2,75.0 333.8,75.0 333.8,77.6 335.4,77.6 335.4,79.7 336.9,79.7 336.9,81.7 338.4,81.7 338.4,84.3 340.0,84.3 340.0,86.9 341.6,86.9 341.6,89.6 343.1,89.6 343.1,92.3 344.6,92.3 344.6,94.9 346.2,94.9 346.2,97.5 347.8,97.5 347.8,99.5 349.3,99.5 349.3,101.6 350.8,101.6 350.8,103.7 352.3,103.7 352.3,105.7 354.5,105.7 354.5,108.8 357.5,108.8 357.5,111.0 361.5,111.0 361.5,112.3 365.5,112.3 365.5,113.6 367.8,113.6 367.8,114.3 370.0,114.3 370.0,115.0 372.4,115.0 372.4,116.0 374.7,116.0 374.7,117.0 378.8,117.0 378.8,118.7 382.9,118.7 382.9,120.3 386.0,120.3 386.0,121.5 389.3,121.5 389.3,122.7 390.3,122.7 390.3,125.3 391.3,125.3 391.3,128.9 395.4,128.9 395.4,129.4 397.0,129.4 397.0,131.5 400.4,131.5 400.4,131.7 403.8,131.7 403.8,131.8 407.2,131.8 407.2,132.0 408.8,132.0 408.8,135.6 411.4,135.6 411.4,135.8 413.9,135.8 413.9,136.1 415.5,136.1 415.5,138.1 418.5,138.1 418.5,138.2 421.6,138.2 421.6,138.4 424.6,138.4 424.6,138.5 427.7,138.5 427.7,138.7 430.7,138.7 430.7,138.8 431.0,138.8 431.0,141.4 431.4,141.4 431.4,143.9 499.3,143.9" fill="none" stroke="#940c3a" stroke-width="1.6" stroke-linejoin="miter" />
<polyline points="305.0,25.5 305.6,25.5 305.6,28.9 306.2,28.9 306.2,32.3 306.9,32.3 306.9,35.1 307.5,35.1 307.5,37.8 308.2,37.8 308.2,40.6 309.2,40.6 309.2,43.7 310.3,43.7 310.3,46.7 311.3,46.7 311.3,49.8 312.3,49.8 312.3,52.9 313.4,52.9 313.4,55.5 314.5,55.5 314.5,58.0 315.4,58.0 315.4,60.1 316.3,60.1 316.3,62.2 316.9,62.2 316.9,65.3 317.4,65.3 317.4,68.4 317.7,68.4 317.7,71.7 318.0,71.7 318.0,75.0 318.4,75.0 318.4,77.3 318.8,77.3 318.8,79.6 319.6,79.6 319.6,81.9 320.3,81.9 320.3,84.3 322.6,84.3 322.6,86.6 323.4,86.6 323.4,90.4 323.8,90.4 323.8,92.7 324.2,92.7 324.2,95.0 324.6,95.0 324.6,97.3 325.0,97.3 325.0,99.7 325.7,99.7 325.7,104.0 327.3,104.0 327.3,106.5 330.4,106.5 330.4,109.5 333.5,109.5 333.5,112.6 334.6,112.6 334.6,114.7 335.6,114.7 335.6,116.7 336.6,116.7 336.6,118.8 337.6,118.8 337.6,120.8 338.9,120.8 338.9,122.9 340.2,122.9 340.2,125.0 341.8,125.0 341.8,128.0 343.1,128.0 343.1,130.1 344.4,130.1 344.4,132.2 347.5,132.2 347.5,135.3 350.6,135.3 350.6,137.3 353.7,137.3 353.7,139.4 356.7,139.4 356.7,140.4 360.8,140.4 360.8,141.5 363.9,141.5 363.9,143.5 366.5,143.5 366.5,146.6 370.0,146.6 370.0,147.1 372.8,147.1 372.8,147.3 375.6,147.3 375.6,147.4 378.5,147.4 378.5,147.6 381.3,147.6 381.3,147.7 384.1,147.7 384.1,147.9 385.1,147.9 385.1,151.3 416.6,151.6 416.6,163.0" fill="none" stroke="#284472" stroke-width="1.6" stroke-linejoin="miter" />
<polygon points="179.3,211.1 181.0,211.1 181.0,212.0 181.6,212.0 181.6,213.5 182.2,213.5 182.2,215.0 182.8,215.0 182.8,216.5 183.4,216.5 183.4,218.0 184.0,218.0 184.0,219.5 184.6,219.5 184.6,221.0 185.2,221.0 185.2,222.5 185.9,222.5 185.9,224.0 186.5,224.0 186.5,225.5 187.1,225.5 187.1,226.8 187.8,226.8 187.8,228.1 188.4,228.1 188.4,229.4 189.1,229.4 189.1,230.7 189.7,230.7 189.7,232.0 190.3,232.0 190.3,233.2 190.9,233.2 190.9,234.5 191.6,234.5 191.6,235.7 192.2,235.7 192.2,237.0 192.8,237.0 192.8,238.2 193.4,238.2 193.4,239.5 193.9,239.5 193.9,240.9 194.5,240.9 194.5,242.2 195.1,242.2 195.1,243.6 195.7,243.6 195.7,245.1 196.2,245.1 196.2,246.6 196.8,246.6 196.8,248.2 197.4,248.2 197.4,249.7 197.9,249.7 197.9,251.3 198.5,251.3 198.5,252.8 199.1,252.8 199.1,254.4 199.6,254.4 199.6,256.0 200.1,256.0 200.1,257.5 200.5,257.5 200.5,259.0 200.9,259.0 200.9,260.4 201.4,260.4 201.4,261.9 201.9,261.9 201.9,263.4 202.3,263.4 202.3,264.9 203.1,264.9 203.1,266.5 203.8,266.5 203.8,268.0 204.6,268.0 204.6,269.6 205.4,269.6 205.4,270.9 206.1,270.9 206.1,272.1 206.9,272.1 206.9,273.4 207.7,273.4 207.7,274.9 208.4,274.9 208.4,276.5 209.2,276.5 209.2,278.0 209.5,278.0 209.5,279.4 209.9,279.4 209.9,280.7 210.2,280.7 210.2,282.1 210.8,282.1 210.8,283.3 211.4,283.3 211.4,284.5 212.1,284.5 212.1,285.8 212.7,285.8 212.7,287.0 213.3,287.0 213.3,288.2 214.3,288.2 214.3,289.6 215.4,289.6 215.4,290.9 216.4,290.9 216.4,292.3 217.9,292.3 217.9,292.9 219.5,292.9 219.5,293.4 220.9,293.4 220.9,294.1 222.2,294.1 222.2,294.7 223.6,294.7 223.6,295.4 224.6,295.4 224.6,296.4 225.6,296.4 225.6,297.4 226.7,297.4 226.7,298.5 227.7,298.5 227.7,299.5 228.7,299.5 228.7,300.5 229.8,300.5 229.8,301.6 230.8,301.6 230.8,302.6 231.8,302.6 231.8,303.6 232.8,303.6 232.8,304.7 233.8,304.7 233.8,305.7 234.7,305.7 234.7,306.6 235.6,306.6 235.6,307.6 236.5,307.6 236.5,308.5 237.0,308.5 237.0,309.7 237.6,309.7 237.6,311.0 238.1,311.0 238.1,312.2 239.1,312.2 239.1,313.2 240.2,313.2 240.2,314.3 241.2,314.3 241.2,315.3 242.6,315.3 242.6,315.8 243.9,315.8 243.9,316.3 245.3,316.3 245.3,316.8 246.7,316.8 246.7,317.3 248.0,317.3 248.0,317.9 249.4,317.9 249.4,318.4 250.8,318.4 250.8,319.1 252.1,319.1 252.1,319.7 253.5,319.7 253.5,320.4 254.9,320.4 254.9,320.9 256.2,320.9 256.2,321.5 257.6,321.5 257.6,322.0 259.0,322.0 259.0,322.5 260.3,322.5 260.3,323.0 261.7,323.0 261.7,323.5 263.1,323.5 263.1,323.8 264.4,323.8 264.4,324.2 265.8,324.2 265.8,324.5 267.2,324.5 267.2,324.9 268.6,324.9 268.6,325.2 270.0,325.2 270.0,325.6 271.4,325.6 271.4,325.8 272.8,325.8 272.8,326.0 274.1,326.0 274.1,326.2 275.5,326.2 275.5,326.4 276.9,326.4 276.9,326.6 278.1,326.6 278.1,327.5 279.4,327.5 279.4,328.3 280.5,328.3 280.5,329.0 281.6,329.0 281.6,329.6 282.7,329.6 282.7,330.3 284.2,330.3 284.2,330.4 285.6,330.4 285.6,330.4 287.1,330.4 287.1,330.5 288.6,330.5 288.6,330.5 290.0,330.5 290.0,330.6 291.5,330.6 291.5,330.6 293.0,330.6 293.0,330.7 294.4,330.7 294.4,330.7 295.9,330.7 295.9,330.8 297.1,330.8 297.1,331.6 298.3,331.6 298.3,332.4 299.8,332.4 299.8,332.5 301.4,332.5 301.4,332.5 302.9,332.5 302.9,332.6 304.4,332.6 304.4,332.6 305.9,332.6 305.9,332.7 307.5,332.7 307.5,332.7 309.0,332.7 309.0,332.8 310.5,332.8 310.5,333.2 312.0,333.2 312.0,333.6 313.5,333.6 313.5,334.0 315.1,334.0 315.1,334.5 316.6,334.5 316.6,334.9 318.1,334.9 318.1,335.3 363.8,335.3 361.6,347.6 358.4,347.6 358.4,345.3 318.1,345.3 318.1,344.9 316.6,344.9 316.6,344.4 315.1,344.4 315.1,343.9 313.5,343.9 313.5,343.5 312.0,343.5 312.0,343.2 310.7,343.2 310.7,343.0 309.5,343.0 309.5,342.7 308.2,342.7 308.2,342.6 306.7,342.6 306.7,342.6 305.2,342.6 305.2,342.5 303.7,342.5 303.7,342.4 302.2,342.4 302.2,342.4 300.7,342.4 300.7,342.3 299.2,342.3 299.2,341.7 297.8,341.7 297.8,341.2 296.4,341.2 296.4,340.6 295.0,340.6 295.0,340.6 293.6,340.6 293.6,340.5 292.1,340.5 292.1,340.4 290.7,340.4 290.7,340.4 289.2,340.4 289.2,340.4 287.8,340.4 287.8,340.3 286.4,340.3 286.4,340.2 284.9,340.2 284.9,340.2 283.5,340.2 283.5,339.8 281.9,339.8 281.9,339.4 280.2,339.4 280.2,338.9 279.0,338.9 279.0,338.4 277.8,338.4 277.8,337.8 276.5,337.8 276.5,337.3 275.3,337.3 275.3,337.1 274.0,337.1 274.0,336.9 272.6,336.9 272.6,336.6 271.3,336.6 271.3,336.4 270.0,336.4 270.0,336.0 268.6,336.0 268.6,335.7 267.2,335.7 267.2,335.3 265.8,335.3 265.8,335.0 264.4,335.0 264.4,334.6 263.1,334.6 263.1,334.3 261.7,334.3 261.7,334.0 260.3,334.0 260.3,333.6 259.0,333.6 259.0,333.3 257.6,333.3 257.6,332.9 256.2,332.9 256.2,332.6 254.9,332.6 254.9,332.2 253.5,332.2 253.5,331.7 252.1,331.7 252.1,331.2 250.8,331.2 250.8,330.7 249.4,330.7 249.4,330.0 248.0,330.0 248.0,329.4 246.7,329.4 246.7,328.7 245.3,328.7 245.3,328.0 243.9,328.0 243.9,327.3 242.6,327.3 242.6,326.6 241.2,326.6 241.2,325.6 240.2,325.6 240.2,324.5 239.1,324.5 239.1,323.5 238.1,323.5 238.1,322.5 237.1,322.5 237.1,321.4 236.0,321.4 236.0,320.4 235.0,320.4 235.0,319.2 233.9,319.2 233.9,318.0 232.8,318.0 232.8,316.6 231.8,316.6 231.8,315.3 230.7,315.3 230.7,313.9 229.7,313.9 229.7,312.9 228.3,312.9 228.3,311.8 227.0,311.8 227.0,310.8 225.6,310.8 225.6,309.8 224.6,309.8 224.6,308.8 223.5,308.8 223.5,307.8 222.5,307.8 222.5,306.8 221.0,306.8 221.0,305.7 219.5,305.7 219.5,305.4 218.1,305.4 218.1,305.0 216.7,305.0 216.7,304.7 215.3,304.7 215.3,303.6 213.8,303.6 213.8,302.6 212.3,302.6 212.3,301.3 211.8,301.3 211.8,300.1 211.2,300.1 211.2,298.8 210.7,298.8 210.7,297.5 210.2,297.5 210.2,296.1 209.6,296.1 209.6,294.6 209.0,294.6 209.0,293.2 208.3,293.2 208.3,291.7 207.7,291.7 207.7,290.3 207.1,290.3 207.1,288.8 206.6,288.8 206.6,287.2 206.1,287.2 206.1,285.7 205.6,285.7 205.6,284.1 205.1,284.1 205.1,282.6 204.7,282.6 204.7,281.1 204.2,281.1 204.2,279.6 203.8,279.6 203.8,278.3 203.0,278.3 203.0,277.0 202.3,277.0 202.3,275.7 201.5,275.7 201.5,274.2 200.7,274.2 200.7,272.6 200.0,272.6 200.0,271.1 199.2,271.1 199.2,269.8 198.6,269.8 198.6,268.4 198.1,268.4 198.1,267.1 197.5,267.1 197.5,265.7 196.9,265.7 196.9,264.2 196.6,264.2 196.6,262.6 196.3,262.6 196.3,261.1 195.9,261.1 195.9,259.5 195.6,259.5 195.6,258.0 195.3,258.0 195.3,256.5 194.9,256.5 194.9,255.0 194.4,255.0 194.4,253.5 194.0,253.5 194.0,252.0 193.6,252.0 193.6,250.5 193.0,250.5 193.0,248.9 192.4,248.9 192.4,247.4 191.9,247.4 191.9,245.9 191.3,245.9 191.3,244.7 190.7,244.7 190.7,243.4 190.1,243.4 190.1,242.2 189.4,242.2 189.4,240.9 188.8,240.9 188.8,239.7 188.2,239.7 188.2,238.1 187.6,238.1 187.6,236.6 187.1,236.6 187.1,235.1 186.5,235.1 186.5,233.5 185.9,233.5 185.9,232.0 185.4,232.0 185.4,230.5 184.8,230.5 184.8,229.0 184.3,229.0 184.3,227.5 183.9,227.5 183.9,226.0 183.4,226.0 183.4,224.5 182.9,224.5 182.9,223.0 182.5,223.0 182.5,221.6 182.1,221.6 182.1,220.2 181.7,220.2 181.7,218.8 181.3,218.8 181.3,217.4 180.9,217.4 180.9,216.0 180.5,216.0 180.5,214.7 180.1,214.7 180.1,213.5 179.7,213.5 179.7,212.2 179.3,212.2" fill="#edf2f9" fill-opacity="1.0" stroke="none"/>
<polygon points="179.3,211.1 180.1,211.1 180.1,212.6 180.7,212.6 180.7,214.1 181.3,214.1 181.3,215.6 181.8,215.6 181.8,217.0 182.4,217.0 182.4,218.5 183.0,218.5 183.0,220.0 183.5,220.0 183.5,221.3 184.0,221.3 184.0,222.6 184.5,222.6 184.5,223.9 185.0,223.9 185.0,225.2 185.5,225.2 185.5,226.5 186.0,226.5 186.0,227.9 186.4,227.9 186.4,229.2 186.9,229.2 186.9,230.6 187.4,230.6 187.4,232.0 188.0,232.0 188.0,233.2 188.6,233.2 188.6,234.5 189.3,234.5 189.3,235.7 189.9,235.7 189.9,237.0 190.5,237.0 190.5,238.2 191.1,238.2 191.1,239.4 191.7,239.4 191.7,240.6 192.4,240.6 192.4,241.9 193.0,241.9 193.0,243.1 193.6,243.1 193.6,244.3 194.2,244.3 194.2,245.9 194.8,245.9 194.8,247.4 195.3,247.4 195.3,248.9 195.9,248.9 195.9,250.5 196.5,250.5 196.5,251.8 197.1,251.8 197.1,253.2 197.6,253.2 197.6,254.6 198.2,254.6 198.2,255.9 198.6,255.9 198.6,257.5 199.0,257.5 199.0,259.1 199.4,259.1 199.4,260.7 199.8,260.7 199.8,262.3 200.2,262.3 200.2,263.7 200.7,263.7 200.7,265.1 201.1,265.1 201.1,266.6 201.5,266.6 201.5,268.0 202.3,268.0 202.3,269.5 203.0,269.5 203.0,271.1 203.8,271.1 203.8,272.6 204.6,272.6 204.6,274.2 205.3,274.2 205.3,275.7 206.1,275.7 206.1,277.3 206.7,277.3 206.7,278.6 207.2,278.6 207.2,280.0 207.8,280.0 207.8,281.4 208.4,281.4 208.4,282.7 208.8,282.7 208.8,283.9 209.2,283.9 209.2,285.1 209.7,285.1 209.7,286.4 210.2,286.4 210.2,287.7 210.7,287.7 210.7,289.0 211.2,289.0 211.2,290.3 211.8,290.3 211.8,291.5 212.4,291.5 212.4,292.8 213.1,292.8 213.1,294.0 213.7,294.0 213.7,295.3 214.3,295.3 214.3,296.5 215.9,296.5 215.9,297.5 217.4,297.5 217.4,298.5 218.8,298.5 218.8,299.2 220.1,299.2 220.1,299.9 221.5,299.9 221.5,300.6 222.9,300.6 222.9,301.6 224.2,301.6 224.2,302.7 225.6,302.7 225.6,303.7 226.6,303.7 226.6,304.7 227.6,304.7 227.6,305.8 228.7,305.8 228.7,306.8 229.7,306.8 229.7,307.8 230.7,307.8 230.7,309.1 231.8,309.1 231.8,310.4 232.8,310.4 232.8,311.6 233.8,311.6 233.8,312.9 234.7,312.9 234.7,314.1 235.6,314.1 235.6,315.3 236.5,315.3 236.5,316.5 237.3,316.5 237.3,317.4 238.1,317.4 238.1,318.4 239.1,318.4 239.1,319.2 240.2,319.2 240.2,320.1 241.2,320.1 241.2,320.9 242.6,320.9 242.6,321.4 243.9,321.4 243.9,322.0 245.3,322.0 245.3,322.5 246.7,322.5 246.7,323.2 248.0,323.2 248.0,323.8 249.4,323.8 249.4,324.5 250.8,324.5 250.8,325.2 252.1,325.2 252.1,325.9 253.5,325.9 253.5,326.6 254.9,326.6 254.9,327.1 256.2,327.1 256.2,327.6 257.6,327.6 257.6,328.1 259.0,328.1 259.0,328.5 260.3,328.5 260.3,328.8 261.7,328.8 261.7,329.2 263.1,329.2 263.1,329.5 264.4,329.5 264.4,329.9 265.8,329.9 265.8,330.2 267.2,330.2 267.2,330.5 268.6,330.5 268.6,330.9 270.0,330.9 270.0,331.2 271.5,331.2 271.5,331.7 273.0,331.7 273.0,332.3 274.5,332.3 274.5,332.8 275.9,332.8 275.9,333.2 277.2,333.2 277.2,333.6 278.6,333.6 278.6,334.0 280.2,334.0 280.2,334.6 281.9,334.6 281.9,335.1 283.5,335.1 283.5,335.7 284.9,335.7 284.9,335.8 286.4,335.8 286.4,335.9 287.8,335.9 287.8,336.0 289.2,336.0 289.2,336.1 290.7,336.1 290.7,336.2 292.1,336.2 292.1,336.3 293.6,336.3 293.6,336.4 295.0,336.4 295.0,336.5 296.6,336.5 296.6,337.4 298.3,337.4 298.3,338.2 299.8,338.2 299.8,338.2 301.2,338.2 301.2,338.3 302.6,338.3 302.6,338.4 304.1,338.4 304.1,338.4 305.6,338.4 305.6,338.4 307.0,338.4 307.0,338.5 308.4,338.5 308.4,338.6 309.9,338.6 309.9,338.6 311.1,338.6 311.1,340.2 312.5,340.2 312.5,340.4 313.9,340.4 313.9,340.6 315.3,340.6 315.3,340.8 316.7,340.8 316.7,341.0 318.1,341.0 318.1,341.2 361.6,347.6 358.4,347.6 358.4,345.3 318.1,345.3 318.1,344.9 316.6,344.9 316.6,344.4 315.1,344.4 315.1,343.9 313.5,343.9 313.5,343.5 312.0,343.5 312.0,343.2 310.7,343.2 310.7,343.0 309.5,343.0 309.5,342.7 308.2,342.7 308.2,342.6 306.7,342.6 306.7,342.6 305.2,342.6 305.2,342.5 303.7,342.5 303.7,342.4 302.2,342.4 302.2,342.4 300.7,342.4 300.7,342.3 299.2,342.3 299.2,341.7 297.8,341.7 297.8,341.2 296.4,341.2 296.4,340.6 295.0,340.6 295.0,340.6 293.6,340.6 293.6,340.5 292.1,340.5 292.1,340.4 290.7,340.4 290.7,340.4 289.2,340.4 289.2,340.4 287.8,340.4 287.8,340.3 286.4,340.3 286.4,340.2 284.9,340.2 284.9,340.2 283.5,340.2 283.5,339.8 281.9,339.8 281.9,339.4 280.2,339.4 280.2,338.9 279.0,338.9 279.0,338.4 277.8,338.4 277.8,337.8 276.5,337.8 276.5,337.3 275.3,337.3 275.3,337.1 274.0,337.1 274.0,336.9 272.6,336.9 272.6,336.6 271.3,336.6 271.3,336.4 270.0,336.4 270.0,336.0 268.6,336.0 268.6,335.7 267.2,335.7 267.2,335.3 265.8,335.3 265.8,335.0 264.4,335.0 264.4,334.6 263.1,334.6 263.1,334.3 261.7,334.3 261.7,334.0 260.3,334.0 260.3,333.6 259.0,333.6 259.0,333.3 257.6,333.3 257.6,332.9 256.2,332.9 256.2,332.6 254.9,332.6 254.9,332.2 253.5,332.2 253.5,331.7 252.1,331.7 252.1,331.2 250.8,331.2 250.8,330.7 249.4,330.7 249.4,330.0 248.0,330.0 248.0,329.4 246.7,329.4 246.7,328.7 245.3,328.7 245.3,328.0 243.9,328.0 243.9,327.3 242.6,327.3 242.6,326.6 241.2,326.6 241.2,325.6 240.2,325.6 240.2,324.5 239.1,324.5 239.1,323.5 238.1,323.5 238.1,322.5 237.1,322.5 237.1,321.4 236.0,321.4 236.0,320.4 235.0,320.4 235.0,319.2 233.9,319.2 233.9,318.0 232.8,318.0 232.8,316.6 231.8,316.6 231.8,315.3 230.7,315.3 230.7,313.9 229.7,313.9 229.7,312.9 228.3,312.9 228.3,311.8 227.0,311.8 227.0,310.8 225.6,310.8 225.6,309.8 224.6,309.8 224.6,308.8 223.5,308.8 223.5,307.8 222.5,307.8 222.5,306.8 221.0,306.8 221.0,305.7 219.5,305.7 219.5,305.4 218.1,305.4 218.1,305.0 216.7,305.0 216.7,304.7 215.3,304.7 215.3,303.6 213.8,303.6 213.8,302.6 212.3,302.6 212.3,301.3 211.8,301.3 211.8,300.1 211.2,300.1 211.2,298.8 210.7,298.8 210.7,297.5 210.2,297.5 210.2,296.1 209.6,296.1 209.6,294.6 209.0,294.6 209.0,293.2 208.3,293.2 208.3,291.7 207.7,291.7 207.7,290.3 207.1,290.3 207.1,288.8 206.6,288.8 206.6,287.2 206.1,287.2 206.1,285.7 205.6,285.7 205.6,284.1 205.1,284.1 205.1,282.6 204.7,282.6 204.7,281.1 204.2,281.1 204.2,279.6 203.8,279.6 203.8,278.3 203.0,278.3 203.0,277.0 202.3,277.0 202.3,275.7 201.5,275.7 201.5,274.2 200.7,274.2 200.7,272.6 200.0,272.6 200.0,271.1 199.2,271.1 199.2,269.8 198.6,269.8 198.6,268.4 198.1,268.4 198.1,267.1 197.5,267.1 197.5,265.7 196.9,265.7 196.9,264.2 196.6,264.2 196.6,262.6 196.3,262.6 196.3,261.1 195.9,261.1 195.9,259.5 195.6,259.5 195.6,258.0 195.3,258.0 195.3,256.5 194.9,256.5 194.9,255.0 194.4,255.0 194.4,253.5 194.0,253.5 194.0,252.0 193.6,252.0 193.6,250.5 193.0,250.5 193.0,248.9 192.4,248.9 192.4,247.4 191.9,247.4 191.9,245.9 191.3,245.9 191.3,244.7 190.7,244.7 190.7,243.4 190.1,243.4 190.1,242.2 189.4,242.2 189.4,240.9 188.8,240.9 188.8,239.7 188.2,239.7 188.2,238.1 187.6,238.1 187.6,236.6 187.1,236.6 187.1,235.1 186.5,235.1 186.5,233.5 185.9,233.5 185.9,232.0 185.4,232.0 185.4,230.5 184.8,230.5 184.8,229.0 184.3,229.0 184.3,227.5 183.9,227.5 183.9,226.0 183.4,226.0 183.4,224.5 182.9,224.5 182.9,223.0 182.5,223.0 182.5,221.6 182.1,221.6 182.1,220.2 181.7,220.2 181.7,218.8 181.3,218.8 181.3,217.4 180.9,217.4 180.9,216.0 180.5,216.0 180.5,214.7 180.1,214.7 180.1,213.5 179.7,213.5 179.7,212.2 179.3,212.2" fill="#dfe8f5" fill-opacity="1.0" stroke="none"/>
<polyline points="179.3,211.1 191.2,211.1 191.2,212.6 202.7,212.6 202.7,214.2 215.0,214.2 215.0,225.0 217.4,225.0 217.4,227.3 221.2,227.3 221.2,231.2 224.3,231.2 224.3,235.8 226.6,235.8 226.6,238.9 243.1,238.9 243.1,245.3 253.4,245.3 253.4,251.6 259.8,251.6 259.8,255.8 262.6,255.8 262.6,260.2 310.5,260.2 310.5,265.2 317.1,265.2 317.1,270.1 320.0,270.1 320.0,277.7 346.7,277.7 346.7,285.1 383.7,285.1" fill="none" stroke="#8e4459" stroke-width="0.8" stroke-linejoin="miter" stroke-dasharray="0.9 0.5"/>
<polyline points="191.5,234.5 202.8,234.5 202.8,238.2 214.2,238.2 214.2,252.2 215.7,252.2 215.7,255.3 217.2,255.3 217.2,259.4 219.3,259.4 219.3,264.5 221.4,264.5 221.4,268.6 223.9,268.6 223.9,271.7 225.5,271.7 225.5,275.8 226.5,275.8 226.5,278.6 243.1,278.6 243.1,287.4 252.4,287.4 252.4,295.8 260.0,295.8 260.0,304.3 309.8,304.3 309.8,314.1 317.1,314.1 317.1,323.8 319.6,323.8 319.6,331.3 346.5,331.3 346.5,341.2 381.5,341.2" fill="none" stroke="#8e4459" stroke-width="0.8" stroke-linejoin="miter" stroke-dasharray="0.9 0.5"/>
<polyline points="179.3,211.1 181.0,211.1 181.0,212.0 181.6,212.0 181.6,213.5 182.2,213.5 182.2,215.0 182.8,215.0 182.8,216.5 183.4,216.5 183.4,218.0 184.0,218.0 184.0,219.5 184.6,219.5 184.6,221.0 185.2,221.0 185.2,222.5 185.9,222.5 185.9,224.0 186.5,224.0 186.5,225.5 187.1,225.5 187.1,226.8 187.8,226.8 187.8,228.1 188.4,228.1 188.4,229.4 189.1,229.4 189.1,230.7 189.7,230.7 189.7,232.0 190.3,232.0 190.3,233.2 190.9,233.2 190.9,234.5 191.6,234.5 191.6,235.7 192.2,235.7 192.2,237.0 192.8,237.0 192.8,238.2 193.4,238.2 193.4,239.5 193.9,239.5 193.9,240.9 194.5,240.9 194.5,242.2 195.1,242.2 195.1,243.6 195.7,243.6 195.7,245.1 196.2,245.1 196.2,246.6 196.8,246.6 196.8,248.2 197.4,248.2 197.4,249.7 197.9,249.7 197.9,251.3 198.5,251.3 198.5,252.8 199.1,252.8 199.1,254.4 199.6,254.4 199.6,256.0 200.1,256.0 200.1,257.5 200.5,257.5 200.5,259.0 200.9,259.0 200.9,260.4 201.4,260.4 201.4,261.9 201.9,261.9 201.9,263.4 202.3,263.4 202.3,264.9 203.1,264.9 203.1,266.5 203.8,266.5 203.8,268.0 204.6,268.0 204.6,269.6 205.4,269.6 205.4,270.9 206.1,270.9 206.1,272.1 206.9,272.1 206.9,273.4 207.7,273.4 207.7,274.9 208.4,274.9 208.4,276.5 209.2,276.5 209.2,278.0 209.5,278.0 209.5,279.4 209.9,279.4 209.9,280.7 210.2,280.7 210.2,282.1 210.8,282.1 210.8,283.3 211.4,283.3 211.4,284.5 212.1,284.5 212.1,285.8 212.7,285.8 212.7,287.0 213.3,287.0 213.3,288.2 214.3,288.2 214.3,289.6 215.4,289.6 215.4,290.9 216.4,290.9 216.4,292.3 217.9,292.3 217.9,292.9 219.5,292.9 219.5,293.4 220.9,293.4 220.9,294.1 222.2,294.1 222.2,294.7 223.6,294.7 223.6,295.4 224.6,295.4 224.6,296.4 225.6,296.4 225.6,297.4 226.7,297.4 226.7,298.5 227.7,298.5 227.7,299.5 228.7,299.5 228.7,300.5 229.8,300.5 229.8,301.6 230.8,301.6 230.8,302.6 231.8,302.6 231.8,303.6 232.8,303.6 232.8,304.7 233.8,304.7 233.8,305.7 234.7,305.7 234.7,306.6 235.6,306.6 235.6,307.6 236.5,307.6 236.5,308.5 237.0,308.5 237.0,309.7 237.6,309.7 237.6,311.0 238.1,311.0 238.1,312.2 239.1,312.2 239.1,313.2 240.2,313.2 240.2,314.3 241.2,314.3 241.2,315.3 242.6,315.3 242.6,315.8 243.9,315.8 243.9,316.3 245.3,316.3 245.3,316.8 246.7,316.8 246.7,317.3 248.0,317.3 248.0,317.9 249.4,317.9 249.4,318.4 250.8,318.4 250.8,319.1 252.1,319.1 252.1,319.7 253.5,319.7 253.5,320.4 254.9,320.4 254.9,320.9 256.2,320.9 256.2,321.5 257.6,321.5 257.6,322.0 259.0,322.0 259.0,322.5 260.3,322.5 260.3,323.0 261.7,323.0 261.7,323.5 263.1,323.5 263.1,323.8 264.4,323.8 264.4,324.2 265.8,324.2 265.8,324.5 267.2,324.5 267.2,324.9 268.6,324.9 268.6,325.2 270.0,325.2 270.0,325.6 271.4,325.6 271.4,325.8 272.8,325.8 272.8,326.0 274.1,326.0 274.1,326.2 275.5,326.2 275.5,326.4 276.9,326.4 276.9,326.6 278.1,326.6 278.1,327.5 279.4,327.5 279.4,328.3 280.5,328.3 280.5,329.0 281.6,329.0 281.6,329.6 282.7,329.6 282.7,330.3 284.2,330.3 284.2,330.4 285.6,330.4 285.6,330.4 287.1,330.4 287.1,330.5 288.6,330.5 288.6,330.5 290.0,330.5 290.0,330.6 291.5,330.6 291.5,330.6 293.0,330.6 293.0,330.7 294.4,330.7 294.4,330.7 295.9,330.7 295.9,330.8 297.1,330.8 297.1,331.6 298.3,331.6 298.3,332.4 299.8,332.4 299.8,332.5 301.4,332.5 301.4,332.5 302.9,332.5 302.9,332.6 304.4,332.6 304.4,332.6 305.9,332.6 305.9,332.7 307.5,332.7 307.5,332.7 309.0,332.7 309.0,332.8 310.5,332.8 310.5,333.2 312.0,333.2 312.0,333.6 313.5,333.6 313.5,334.0 315.1,334.0 315.1,334.5 316.6,334.5 316.6,334.9 318.1,334.9 318.1,335.3 363.8,335.3" fill="none" stroke="#4d5d7a" stroke-width="0.8" stroke-linejoin="miter" stroke-dasharray="1 0.4"/>
<polyline points="179.3,212.2 179.7,212.2 179.7,213.5 180.1,213.5 180.1,214.7 180.5,214.7 180.5,216.0 180.9,216.0 180.9,217.4 181.3,217.4 181.3,218.8 181.7,218.8 181.7,220.2 182.1,220.2 182.1,221.6 182.5,221.6 182.5,223.0 182.9,223.0 182.9,224.5 183.4,224.5 183.4,226.0 183.9,226.0 183.9,227.5 184.3,227.5 184.3,229.0 184.8,229.0 184.8,230.5 185.4,230.5 185.4,232.0 185.9,232.0 185.9,233.5 186.5,233.5 186.5,235.1 187.1,235.1 187.1,236.6 187.6,236.6 187.6,238.1 188.2,238.1 188.2,239.7 188.8,239.7 188.8,240.9 189.4,240.9 189.4,242.2 190.1,242.2 190.1,243.4 190.7,243.4 190.7,244.7 191.3,244.7 191.3,245.9 191.9,245.9 191.9,247.4 192.4,247.4 192.4,248.9 193.0,248.9 193.0,250.5 193.6,250.5 193.6,252.0 194.0,252.0 194.0,253.5 194.4,253.5 194.4,255.0 194.9,255.0 194.9,256.5 195.3,256.5 195.3,258.0 195.6,258.0 195.6,259.5 195.9,259.5 195.9,261.1 196.3,261.1 196.3,262.6 196.6,262.6 196.6,264.2 196.9,264.2 196.9,265.7 197.5,265.7 197.5,267.1 198.1,267.1 198.1,268.4 198.6,268.4 198.6,269.8 199.2,269.8 199.2,271.1 200.0,271.1 200.0,272.6 200.7,272.6 200.7,274.2 201.5,274.2 201.5,275.7 202.3,275.7 202.3,277.0 203.0,277.0 203.0,278.3 203.8,278.3 203.8,279.6 204.2,279.6 204.2,281.1 204.7,281.1 204.7,282.6 205.1,282.6 205.1,284.1 205.6,284.1 205.6,285.7 206.1,285.7 206.1,287.2 206.6,287.2 206.6,288.8 207.1,288.8 207.1,290.3 207.7,290.3 207.7,291.7 208.3,291.7 208.3,293.2 209.0,293.2 209.0,294.6 209.6,294.6 209.6,296.1 210.2,296.1 210.2,297.5 210.7,297.5 210.7,298.8 211.2,298.8 211.2,300.1 211.8,300.1 211.8,301.3 212.3,301.3 212.3,302.6 213.8,302.6 213.8,303.6 215.3,303.6 215.3,304.7 216.7,304.7 216.7,305.0 218.1,305.0 218.1,305.4 219.5,305.4 219.5,305.7 221.0,305.7 221.0,306.8 222.5,306.8 222.5,307.8 223.5,307.8 223.5,308.8 224.6,308.8 224.6,309.8 225.6,309.8 225.6,310.8 227.0,310.8 227.0,311.8 228.3,311.8 228.3,312.9 229.7,312.9 229.7,313.9 230.7,313.9 230.7,315.3 231.8,315.3 231.8,316.6 232.8,316.6 232.8,318.0 233.9,318.0 233.9,319.2 235.0,319.2 235.0,320.4 236.0,320.4 236.0,321.4 237.1,321.4 237.1,322.5 238.1,322.5 238.1,323.5 239.1,323.5 239.1,324.5 240.2,324.5 240.2,325.6 241.2,325.6 241.2,326.6 242.6,326.6 242.6,327.3 243.9,327.3 243.9,328.0 245.3,328.0 245.3,328.7 246.7,328.7 246.7,329.4 248.0,329.4 248.0,330.0 249.4,330.0 249.4,330.7 250.8,330.7 250.8,331.2 252.1,331.2 252.1,331.7 253.5,331.7 253.5,332.2 254.9,332.2 254.9,332.6 256.2,332.6 256.2,332.9 257.6,332.9 257.6,333.3 259.0,333.3 259.0,333.6 260.3,333.6 260.3,334.0 261.7,334.0 261.7,334.3 263.1,334.3 263.1,334.6 264.4,334.6 264.4,335.0 265.8,335.0 265.8,335.3 267.2,335.3 267.2,335.7 268.6,335.7 268.6,336.0 270.0,336.0 270.0,336.4 271.3,336.4 271.3,336.6 272.6,336.6 272.6,336.9 274.0,336.9 274.0,337.1 275.3,337.1 275.3,337.3 276.5,337.3 276.5,337.8 277.8,337.8 277.8,338.4 279.0,338.4 279.0,338.9 280.2,338.9 280.2,339.4 281.9,339.4 281.9,339.8 283.5,339.8 283.5,340.2 284.9,340.2 284.9,340.2 286.4,340.2 286.4,340.3 287.8,340.3 287.8,340.4 289.2,340.4 289.2,340.4 290.7,340.4 290.7,340.4 292.1,340.4 292.1,340.5 293.6,340.5 293.6,340.6 295.0,340.6 295.0,340.6 296.4,340.6 296.4,341.2 297.8,341.2 297.8,341.7 299.2,341.7 299.2,342.3 300.7,342.3 300.7,342.4 302.2,342.4 302.2,342.4 303.7,342.4 303.7,342.5 305.2,342.5 305.2,342.6 306.7,342.6 306.7,342.6 308.2,342.6 308.2,342.7 309.5,342.7 309.5,343.0 310.7,343.0 310.7,343.2 312.0,343.2 312.0,343.5 313.5,343.5 313.5,343.9 315.1,343.9 315.1,344.4 316.6,344.4 316.6,344.9 318.1,344.9 318.1,345.3 358.4,345.3 358.4,347.6 361.6,347.6" fill="none" stroke="#4d5d7a" stroke-width="0.8" stroke-linejoin="miter" stroke-dasharray="1 0.4"/>
<polyline points="179.3,211.1 191.2,211.1 191.2,217.4 202.8,217.4 202.8,221.0 214.4,221.0 214.4,231.0 215.5,231.0 215.5,234.5 216.8,234.5 216.8,238.3 218.5,238.3 218.5,241.5 219.8,241.5 219.8,245.0 221.4,245.0 221.4,248.1 223.9,248.1 223.9,250.0 225.0,250.0 225.0,253.2 226.5,253.2 226.5,256.4 243.8,256.4 243.8,265.0 252.6,265.0 252.6,273.8 260.8,273.8 260.8,278.1 262.3,278.1 262.3,282.6 309.6,282.6 309.6,291.0 317.1,291.0 317.1,300.6 319.5,300.6 319.5,309.4 346.7,309.4 346.7,322.9 382.5,322.9" fill="none" stroke="#940c3a" stroke-width="1.8" stroke-linejoin="miter" />
<polyline points="179.3,211.1 180.1,211.1 180.1,212.6 180.7,212.6 180.7,214.1 181.3,214.1 181.3,215.6 181.8,215.6 181.8,217.0 182.4,217.0 182.4,218.5 183.0,218.5 183.0,220.0 183.5,220.0 183.5,221.3 184.0,221.3 184.0,222.6 184.5,222.6 184.5,223.9 185.0,223.9 185.0,225.2 185.5,225.2 185.5,226.5 186.0,226.5 186.0,227.9 186.4,227.9 186.4,229.2 186.9,229.2 186.9,230.6 187.4,230.6 187.4,232.0 188.0,232.0 188.0,233.2 188.6,233.2 188.6,234.5 189.3,234.5 189.3,235.7 189.9,235.7 189.9,237.0 190.5,237.0 190.5,238.2 191.1,238.2 191.1,239.4 191.7,239.4 191.7,240.6 192.4,240.6 192.4,241.9 193.0,241.9 193.0,243.1 193.6,243.1 193.6,244.3 194.2,244.3 194.2,245.9 194.8,245.9 194.8,247.4 195.3,247.4 195.3,248.9 195.9,248.9 195.9,250.5 196.5,250.5 196.5,251.8 197.1,251.8 197.1,253.2 197.6,253.2 197.6,254.6 198.2,254.6 198.2,255.9 198.6,255.9 198.6,257.5 199.0,257.5 199.0,259.1 199.4,259.1 199.4,260.7 199.8,260.7 199.8,262.3 200.2,262.3 200.2,263.7 200.7,263.7 200.7,265.1 201.1,265.1 201.1,266.6 201.5,266.6 201.5,268.0 202.3,268.0 202.3,269.5 203.0,269.5 203.0,271.1 203.8,271.1 203.8,272.6 204.6,272.6 204.6,274.2 205.3,274.2 205.3,275.7 206.1,275.7 206.1,277.3 206.7,277.3 206.7,278.6 207.2,278.6 207.2,280.0 207.8,280.0 207.8,281.4 208.4,281.4 208.4,282.7 208.8,282.7 208.8,283.9 209.2,283.9 209.2,285.1 209.7,285.1 209.7,286.4 210.2,286.4 210.2,287.7 210.7,287.7 210.7,289.0 211.2,289.0 211.2,290.3 211.8,290.3 211.8,291.5 212.4,291.5 212.4,292.8 213.1,292.8 213.1,294.0 213.7,294.0 213.7,295.3 214.3,295.3 214.3,296.5 215.9,296.5 215.9,297.5 217.4,297.5 217.4,298.5 218.8,298.5 218.8,299.2 220.1,299.2 220.1,299.9 221.5,299.9 221.5,300.6 222.9,300.6 222.9,301.6 224.2,301.6 224.2,302.7 225.6,302.7 225.6,303.7 226.6,303.7 226.6,304.7 227.6,304.7 227.6,305.8 228.7,305.8 228.7,306.8 229.7,306.8 229.7,307.8 230.7,307.8 230.7,309.1 231.8,309.1 231.8,310.4 232.8,310.4 232.8,311.6 233.8,311.6 233.8,312.9 234.7,312.9 234.7,314.1 235.6,314.1 235.6,315.3 236.5,315.3 236.5,316.5 237.3,316.5 237.3,317.4 238.1,317.4 238.1,318.4 239.1,318.4 239.1,319.2 240.2,319.2 240.2,320.1 241.2,320.1 241.2,320.9 242.6,320.9 242.6,321.4 243.9,321.4 243.9,322.0 245.3,322.0 245.3,322.5 246.7,322.5 246.7,323.2 248.0,323.2 248.0,323.8 249.4,323.8 249.4,324.5 250.8,324.5 250.8,325.2 252.1,325.2 252.1,325.9 253.5,325.9 253.5,326.6 254.9,326.6 254.9,327.1 256.2,327.1 256.2,327.6 257.6,327.6 257.6,328.1 259.0,328.1 259.0,328.5 260.3,328.5 260.3,328.8 261.7,328.8 261.7,329.2 263.1,329.2 263.1,329.5 264.4,329.5 264.4,329.9 265.8,329.9 265.8,330.2 267.2,330.2 267.2,330.5 268.6,330.5 268.6,330.9 270.0,330.9 270.0,331.2 271.5,331.2 271.5,331.7 273.0,331.7 273.0,332.3 274.5,332.3 274.5,332.8 275.9,332.8 275.9,333.2 277.2,333.2 277.2,333.6 278.6,333.6 278.6,334.0 280.2,334.0 280.2,334.6 281.9,334.6 281.9,335.1 283.5,335.1 283.5,335.7 284.9,335.7 284.9,335.8 286.4,335.8 286.4,335.9 287.8,335.9 287.8,336.0 289.2,336.0 289.2,336.1 290.7,336.1 290.7,336.2 292.1,336.2 292.1,336.3 293.6,336.3 293.6,336.4 295.0,336.4 295.0,336.5 296.6,336.5 296.6,337.4 298.3,337.4 298.3,338.2 299.8,338.2 299.8,338.2 301.2,338.2 301.2,338.3 302.6,338.3 302.6,338.4 304.1,338.4 304.1,338.4 305.6,338.4 305.6,338.4 307.0,338.4 307.0,338.5 308.4,338.5 308.4,338.6 309.9,338.6 309.9,338.6 311.1,338.6 311.1,340.2 312.5,340.2 312.5,340.4 313.9,340.4 313.9,340.6 315.3,340.6 315.3,340.8 316.7,340.8 316.7,341.0 318.1,341.0 318.1,341.2 358.4,341.2 358.4,343.8 361.6,343.8 361.6,348.6" fill="none" stroke="#284472" stroke-width="1.6" stroke-linejoin="miter" />
<line x1="52" y1="22" x2="52" y2="163.9" stroke="#111" stroke-width="2.0"/>
<line x1="51.1" y1="163" x2="260" y2="163" stroke="#111" stroke-width="2.0"/>
<line x1="48.8" y1="163.0" x2="52" y2="163.0" stroke="#111" stroke-width="1.1"/>
<text transform="translate(40.7,165.5) scale(0.9558,1)" x="0" y="0" font-size="7" text-anchor="middle" font-weight="normal" fill="#2e2e2e" stroke="#2e2e2e" stroke-width="0.12" >0.0</text>
<line x1="48.8" y1="135.5" x2="52" y2="135.5" stroke="#111" stroke-width="1.1"/>
<text transform="translate(40.7,138.0) scale(0.9558,1)" x="0" y="0" font-size="7" text-anchor="middle" font-weight="normal" fill="#2e2e2e" stroke="#2e2e2e" stroke-width="0.12" >0.2</text>
<line x1="48.8" y1="108.0" x2="52" y2="108.0" stroke="#111" stroke-width="1.1"/>
<text transform="translate(40.7,110.5) scale(0.9558,1)" x="0" y="0" font-size="7" text-anchor="middle" font-weight="normal" fill="#2e2e2e" stroke="#2e2e2e" stroke-width="0.12" >0.4</text>
<line x1="48.8" y1="80.5" x2="52" y2="80.5" stroke="#111" stroke-width="1.1"/>
<text transform="translate(40.7,83.0) scale(0.9558,1)" x="0" y="0" font-size="7" text-anchor="middle" font-weight="normal" fill="#2e2e2e" stroke="#2e2e2e" stroke-width="0.12" >0.6</text>
<line x1="48.8" y1="53.0" x2="52" y2="53.0" stroke="#111" stroke-width="1.1"/>
<text transform="translate(40.7,55.5) scale(0.9558,1)" x="0" y="0" font-size="7" text-anchor="middle" font-weight="normal" fill="#2e2e2e" stroke="#2e2e2e" stroke-width="0.12" >0.8</text>
<line x1="48.8" y1="25.5" x2="52" y2="25.5" stroke="#111" stroke-width="1.1"/>
<text transform="translate(40.7,28.0) scale(0.9558,1)" x="0" y="0" font-size="7" text-anchor="middle" font-weight="normal" fill="#2e2e2e" stroke="#2e2e2e" stroke-width="0.12" >1.0</text>
<line x1="50.7" y1="149.2" x2="52" y2="149.2" stroke="#111" stroke-width="1"/>
<line x1="50.7" y1="121.8" x2="52" y2="121.8" stroke="#111" stroke-width="1"/>
<line x1="50.7" y1="94.2" x2="52" y2="94.2" stroke="#111" stroke-width="1"/>
<line x1="50.7" y1="66.8" x2="52" y2="66.8" stroke="#111" stroke-width="1"/>
<line x1="50.7" y1="39.2" x2="52" y2="39.2" stroke="#111" stroke-width="1"/>
<line x1="52.0" y1="163" x2="52.0" y2="166.3" stroke="#111" stroke-width="1.1"/>
<text transform="translate(52.0,175.4) scale(0.8221,1)" x="0" y="0" font-size="7" text-anchor="middle" font-weight="normal" fill="#2e2e2e" stroke="#2e2e2e" stroke-width="0.12" >0</text>
<line x1="92.8" y1="163" x2="92.8" y2="166.3" stroke="#111" stroke-width="1.1"/>
<text transform="translate(92.85,175.4) scale(0.8221,1)" x="0" y="0" font-size="7" text-anchor="middle" font-weight="normal" fill="#2e2e2e" stroke="#2e2e2e" stroke-width="0.12" >5</text>
<line x1="133.7" y1="163" x2="133.7" y2="166.3" stroke="#111" stroke-width="1.1"/>
<text transform="translate(133.7,175.4) scale(0.8606,1)" x="0" y="0" font-size="7" text-anchor="middle" font-weight="normal" fill="#2e2e2e" stroke="#2e2e2e" stroke-width="0.12" >10</text>
<line x1="174.6" y1="163" x2="174.6" y2="166.3" stroke="#111" stroke-width="1.1"/>
<text transform="translate(174.55,175.4) scale(0.8606,1)" x="0" y="0" font-size="7" text-anchor="middle" font-weight="normal" fill="#2e2e2e" stroke="#2e2e2e" stroke-width="0.12" >15</text>
<line x1="215.4" y1="163" x2="215.4" y2="166.3" stroke="#111" stroke-width="1.1"/>
<text transform="translate(215.4,175.4) scale(0.8606,1)" x="0" y="0" font-size="7" text-anchor="middle" font-weight="normal" fill="#2e2e2e" stroke="#2e2e2e" stroke-width="0.12" >20</text>
<line x1="256.2" y1="163" x2="256.2" y2="166.3" stroke="#111" stroke-width="1.1"/>
<text transform="translate(256.25,175.4) scale(0.8606,1)" x="0" y="0" font-size="7" text-anchor="middle" font-weight="normal" fill="#2e2e2e" stroke="#2e2e2e" stroke-width="0.12" >25</text>
<line x1="72.4" y1="163" x2="72.4" y2="164.8" stroke="#111" stroke-width="1"/>
<line x1="113.3" y1="163" x2="113.3" y2="164.8" stroke="#111" stroke-width="1"/>
<line x1="154.1" y1="163" x2="154.1" y2="164.8" stroke="#111" stroke-width="1"/>
<line x1="195.0" y1="163" x2="195.0" y2="164.8" stroke="#111" stroke-width="1"/>
<line x1="235.8" y1="163" x2="235.8" y2="164.8" stroke="#111" stroke-width="1"/>
<line x1="305" y1="22" x2="305" y2="163.9" stroke="#111" stroke-width="1.8"/>
<line x1="304.1" y1="163" x2="512" y2="163" stroke="#111" stroke-width="1.8"/>
<line x1="301.8" y1="163.0" x2="305" y2="163.0" stroke="#111" stroke-width="1.1"/>
<text transform="translate(293.7,165.5) scale(0.9558,1)" x="0" y="0" font-size="7" text-anchor="middle" font-weight="normal" fill="#2e2e2e" stroke="#2e2e2e" stroke-width="0.12" >0.0</text>
<line x1="301.8" y1="135.5" x2="305" y2="135.5" stroke="#111" stroke-width="1.1"/>
<text transform="translate(293.7,138.0) scale(0.9558,1)" x="0" y="0" font-size="7" text-anchor="middle" font-weight="normal" fill="#2e2e2e" stroke="#2e2e2e" stroke-width="0.12" >0.2</text>
<line x1="301.8" y1="108.0" x2="305" y2="108.0" stroke="#111" stroke-width="1.1"/>
<text transform="translate(293.7,110.5) scale(0.9558,1)" x="0" y="0" font-size="7" text-anchor="middle" font-weight="normal" fill="#2e2e2e" stroke="#2e2e2e" stroke-width="0.12" >0.4</text>
<line x1="301.8" y1="80.5" x2="305" y2="80.5" stroke="#111" stroke-width="1.1"/>
<text transform="translate(293.7,83.0) scale(0.9558,1)" x="0" y="0" font-size="7" text-anchor="middle" font-weight="normal" fill="#2e2e2e" stroke="#2e2e2e" stroke-width="0.12" >0.6</text>
<line x1="301.8" y1="53.0" x2="305" y2="53.0" stroke="#111" stroke-width="1.1"/>
<text transform="translate(293.7,55.5) scale(0.9558,1)" x="0" y="0" font-size="7" text-anchor="middle" font-weight="normal" fill="#2e2e2e" stroke="#2e2e2e" stroke-width="0.12" >0.8</text>
<line x1="301.8" y1="25.5" x2="305" y2="25.5" stroke="#111" stroke-width="1.1"/>
<text transform="translate(293.7,28.0) scale(0.9558,1)" x="0" y="0" font-size="7" text-anchor="middle" font-weight="normal" fill="#2e2e2e" stroke="#2e2e2e" stroke-width="0.12" >1.0</text>
<line x1="303.7" y1="149.2" x2="305" y2="149.2" stroke="#111" stroke-width="1"/>
<line x1="303.7" y1="121.8" x2="305" y2="121.8" stroke="#111" stroke-width="1"/>
<line x1="303.7" y1="94.2" x2="305" y2="94.2" stroke="#111" stroke-width="1"/>
<line x1="303.7" y1="66.8" x2="305" y2="66.8" stroke="#111" stroke-width="1"/>
<line x1="303.7" y1="39.2" x2="305" y2="39.2" stroke="#111" stroke-width="1"/>
<line x1="305.0" y1="163" x2="305.0" y2="166.3" stroke="#111" stroke-width="1.1"/>
<text transform="translate(305.0,175.4) scale(0.8221,1)" x="0" y="0" font-size="7" text-anchor="middle" font-weight="normal" fill="#2e2e2e" stroke="#2e2e2e" stroke-width="0.12" >0</text>
<line x1="336.4" y1="163" x2="336.4" y2="166.3" stroke="#111" stroke-width="1.1"/>
<text transform="translate(336.4,175.4) scale(0.8221,1)" x="0" y="0" font-size="7" text-anchor="middle" font-weight="normal" fill="#2e2e2e" stroke="#2e2e2e" stroke-width="0.12" >5</text>
<line x1="367.8" y1="163" x2="367.8" y2="166.3" stroke="#111" stroke-width="1.1"/>
<text transform="translate(367.8,175.4) scale(0.8606,1)" x="0" y="0" font-size="7" text-anchor="middle" font-weight="normal" fill="#2e2e2e" stroke="#2e2e2e" stroke-width="0.12" >10</text>
<line x1="399.2" y1="163" x2="399.2" y2="166.3" stroke="#111" stroke-width="1.1"/>
<text transform="translate(399.2,175.4) scale(0.8606,1)" x="0" y="0" font-size="7" text-anchor="middle" font-weight="normal" fill="#2e2e2e" stroke="#2e2e2e" stroke-width="0.12" >15</text>
<line x1="430.6" y1="163" x2="430.6" y2="166.3" stroke="#111" stroke-width="1.1"/>
<text transform="translate(430.6,175.4) scale(0.8606,1)" x="0" y="0" font-size="7" text-anchor="middle" font-weight="normal" fill="#2e2e2e" stroke="#2e2e2e" stroke-width="0.12" >20</text>
<line x1="462.0" y1="163" x2="462.0" y2="166.3" stroke="#111" stroke-width="1.1"/>
<text transform="translate(462.0,175.4) scale(0.8606,1)" x="0" y="0" font-size="7" text-anchor="middle" font-weight="normal" fill="#2e2e2e" stroke="#2e2e2e" stroke-width="0.12" >25</text>
<line x1="493.4" y1="163" x2="493.4" y2="166.3" stroke="#111" stroke-width="1.1"/>
<text transform="translate(493.4,175.4) scale(0.8606,1)" x="0" y="0" font-size="7" text-anchor="middle" font-weight="normal" fill="#2e2e2e" stroke="#2e2e2e" stroke-width="0.12" >30</text>
<line x1="320.7" y1="163" x2="320.7" y2="164.8" stroke="#111" stroke-width="1"/>
<line x1="352.1" y1="163" x2="352.1" y2="164.8" stroke="#111" stroke-width="1"/>
<line x1="383.5" y1="163" x2="383.5" y2="164.8" stroke="#111" stroke-width="1"/>
<line x1="414.9" y1="163" x2="414.9" y2="164.8" stroke="#111" stroke-width="1"/>
<line x1="446.3" y1="163" x2="446.3" y2="164.8" stroke="#111" stroke-width="1"/>
<line x1="477.7" y1="163" x2="477.7" y2="164.8" stroke="#111" stroke-width="1"/>
<line x1="509.1" y1="163" x2="509.1" y2="164.8" stroke="#111" stroke-width="1"/>
<line x1="179.3" y1="208" x2="179.3" y2="349.7" stroke="#111" stroke-width="1.7"/>
<line x1="178.4" y1="348.8" x2="387.4" y2="348.8" stroke="#111" stroke-width="1.7"/>
<line x1="176.10000000000002" y1="348.8" x2="179.3" y2="348.8" stroke="#111" stroke-width="1.1"/>
<text transform="translate(168.0,351.3) scale(0.9558,1)" x="0" y="0" font-size="7" text-anchor="middle" font-weight="normal" fill="#2e2e2e" stroke="#2e2e2e" stroke-width="0.12" >0.0</text>
<line x1="176.10000000000002" y1="321.3" x2="179.3" y2="321.3" stroke="#111" stroke-width="1.1"/>
<text transform="translate(168.0,323.76) scale(0.9558,1)" x="0" y="0" font-size="7" text-anchor="middle" font-weight="normal" fill="#2e2e2e" stroke="#2e2e2e" stroke-width="0.12" >0.2</text>
<line x1="176.10000000000002" y1="293.7" x2="179.3" y2="293.7" stroke="#111" stroke-width="1.1"/>
<text transform="translate(168.0,296.22) scale(0.9558,1)" x="0" y="0" font-size="7" text-anchor="middle" font-weight="normal" fill="#2e2e2e" stroke="#2e2e2e" stroke-width="0.12" >0.4</text>
<line x1="176.10000000000002" y1="266.2" x2="179.3" y2="266.2" stroke="#111" stroke-width="1.1"/>
<text transform="translate(168.0,268.68) scale(0.9558,1)" x="0" y="0" font-size="7" text-anchor="middle" font-weight="normal" fill="#2e2e2e" stroke="#2e2e2e" stroke-width="0.12" >0.6</text>
<line x1="176.10000000000002" y1="238.6" x2="179.3" y2="238.6" stroke="#111" stroke-width="1.1"/>
<text transform="translate(168.0,241.14) scale(0.9558,1)" x="0" y="0" font-size="7" text-anchor="middle" font-weight="normal" fill="#2e2e2e" stroke="#2e2e2e" stroke-width="0.12" >0.8</text>
<line x1="176.10000000000002" y1="211.1" x2="179.3" y2="211.1" stroke="#111" stroke-width="1.1"/>
<text transform="translate(168.0,213.6) scale(0.9558,1)" x="0" y="0" font-size="7" text-anchor="middle" font-weight="normal" fill="#2e2e2e" stroke="#2e2e2e" stroke-width="0.12" >1.0</text>
<line x1="178.0" y1="335.0" x2="179.3" y2="335.0" stroke="#111" stroke-width="1"/>
<line x1="178.0" y1="307.5" x2="179.3" y2="307.5" stroke="#111" stroke-width="1"/>
<line x1="178.0" y1="279.9" x2="179.3" y2="279.9" stroke="#111" stroke-width="1"/>
<line x1="178.0" y1="252.4" x2="179.3" y2="252.4" stroke="#111" stroke-width="1"/>
<line x1="178.0" y1="224.9" x2="179.3" y2="224.9" stroke="#111" stroke-width="1"/>
<line x1="179.3" y1="348.8" x2="179.3" y2="352.1" stroke="#111" stroke-width="1.1"/>
<text transform="translate(179.3,361.2) scale(0.8221,1)" x="0" y="0" font-size="7" text-anchor="middle" font-weight="normal" fill="#2e2e2e" stroke="#2e2e2e" stroke-width="0.12" >0</text>
<line x1="230.5" y1="348.8" x2="230.5" y2="352.1" stroke="#111" stroke-width="1.1"/>
<text transform="translate(230.5,361.2) scale(0.8221,1)" x="0" y="0" font-size="7" text-anchor="middle" font-weight="normal" fill="#2e2e2e" stroke="#2e2e2e" stroke-width="0.12" >5</text>
<line x1="281.7" y1="348.8" x2="281.7" y2="352.1" stroke="#111" stroke-width="1.1"/>
<text transform="translate(281.70000000000005,361.2) scale(0.8606,1)" x="0" y="0" font-size="7" text-anchor="middle" font-weight="normal" fill="#2e2e2e" stroke="#2e2e2e" stroke-width="0.12" >10</text>
<line x1="332.9" y1="348.8" x2="332.9" y2="352.1" stroke="#111" stroke-width="1.1"/>
<text transform="translate(332.9,361.2) scale(0.8606,1)" x="0" y="0" font-size="7" text-anchor="middle" font-weight="normal" fill="#2e2e2e" stroke="#2e2e2e" stroke-width="0.12" >15</text>
<line x1="384.1" y1="348.8" x2="384.1" y2="352.1" stroke="#111" stroke-width="1.1"/>
<text transform="translate(384.1,361.2) scale(0.8606,1)" x="0" y="0" font-size="7" text-anchor="middle" font-weight="normal" fill="#2e2e2e" stroke="#2e2e2e" stroke-width="0.12" >20</text>
<line x1="204.9" y1="348.8" x2="204.9" y2="350.6" stroke="#111" stroke-width="1"/>
<line x1="256.1" y1="348.8" x2="256.1" y2="350.6" stroke="#111" stroke-width="1"/>
<line x1="307.3" y1="348.8" x2="307.3" y2="350.6" stroke="#111" stroke-width="1"/>
<line x1="358.5" y1="348.8" x2="358.5" y2="350.6" stroke="#111" stroke-width="1"/>
<text transform="translate(31.2,17.7) scale(0.9577,1)" x="0" y="0" font-size="12" text-anchor="middle" font-weight="bold" fill="#000" stroke="#000" stroke-width="0.45" >A</text>
<text transform="translate(281.85,17.7) scale(0.9116,1)" x="0" y="0" font-size="12" text-anchor="middle" font-weight="bold" fill="#000" stroke="#000" stroke-width="0.45" >B</text>
<text transform="translate(155.8,203.8) scale(0.9462,1)" x="0" y="0" font-size="12" text-anchor="middle" font-weight="bold" fill="#000" stroke="#000" stroke-width="0.45" >C</text>
<text transform="translate(77.9,138.86) scale(0.9273,1)" x="0" y="0" font-size="6.0" text-anchor="middle" font-weight="normal" fill="#000" stroke="#000" stroke-width="0.09" >Albumin</text>
<text transform="translate(77.9,145.61) scale(0.7893,1)" x="0" y="0" font-size="6.0" text-anchor="middle" font-weight="normal" fill="#000" stroke="#000" stroke-width="0.09" >&lt;4.3 g/dl</text>
<text transform="translate(77.65,151.86) scale(0.9525,1)" x="0" y="0" font-size="6.0" text-anchor="middle" font-weight="normal" fill="#000" stroke="#000" stroke-width="0.09" >N=285</text>
<text transform="translate(76.7,158.51) scale(0.9104,1)" x="0" y="0" font-size="6.0" text-anchor="middle" font-weight="normal" fill="#000" stroke="#000" stroke-width="0.09" >Median 2.6 years</text>
<text transform="translate(217.5,92.26) scale(0.9088,1)" x="0" y="0" font-size="6.0" text-anchor="middle" font-weight="normal" fill="#000" stroke="#000" stroke-width="0.09" >Albumin</text>
<text transform="translate(216.6,98.71) scale(0.8575,1)" x="0" y="0" font-size="6.0" text-anchor="middle" font-weight="normal" fill="#000" stroke="#000" stroke-width="0.09" >≥4.4 g/dl</text>
<text transform="translate(217.05,105.41) scale(0.8965,1)" x="0" y="0" font-size="6.0" text-anchor="middle" font-weight="normal" fill="#000" stroke="#000" stroke-width="0.09" >N=129</text>
<text transform="translate(216.3,112.01) scale(0.9191,1)" x="0" y="0" font-size="6.0" text-anchor="middle" font-weight="normal" fill="#000" stroke="#000" stroke-width="0.09" >Median 6.7 years</text>
<text transform="translate(327.55,139.11) scale(0.8752,1)" x="0" y="0" font-size="6.0" text-anchor="middle" font-weight="normal" fill="#000" stroke="#000" stroke-width="0.09" >TC</text>
<text transform="translate(327.9,145.81) scale(0.9212,1)" x="0" y="0" font-size="6.0" text-anchor="middle" font-weight="normal" fill="#000" stroke="#000" stroke-width="0.09" >&lt;122 mg/dl</text>
<text transform="translate(326.95,152.21) scale(0.8965,1)" x="0" y="0" font-size="6.0" text-anchor="middle" font-weight="normal" fill="#000" stroke="#000" stroke-width="0.09" >N=119</text>
<text transform="translate(326.5,158.81) scale(0.8947,1)" x="0" y="0" font-size="6.0" text-anchor="middle" font-weight="normal" fill="#000" stroke="#000" stroke-width="0.09" >Median 3 years</text>
<text transform="translate(466.2,107.21) scale(0.9388,1)" x="0" y="0" font-size="6.0" text-anchor="middle" font-weight="normal" fill="#000" stroke="#000" stroke-width="0.09" >TC ≥122 mg/dl</text>
<text transform="translate(466.25,113.91) scale(0.9413,1)" x="0" y="0" font-size="6.0" text-anchor="middle" font-weight="normal" fill="#000" stroke="#000" stroke-width="0.09" >N=199</text>
<text transform="translate(465.2,120.41) scale(0.8974,1)" x="0" y="0" font-size="6.0" text-anchor="middle" font-weight="normal" fill="#000" stroke="#000" stroke-width="0.09" >Median 6.1 years</text>
<text transform="translate(290.85,241.91) scale(0.9076,1)" x="0" y="0" font-size="6.0" text-anchor="middle" font-weight="normal" fill="#000" stroke="#000" stroke-width="0.09" >“Favorable” CI</text>
<text transform="translate(290.35,248.41) scale(0.8821,1)" x="0" y="0" font-size="6.0" text-anchor="middle" font-weight="normal" fill="#000" stroke="#000" stroke-width="0.09" >N=44</text>
<text transform="translate(289.85,255.11) scale(0.9083,1)" x="0" y="0" font-size="6.0" text-anchor="middle" font-weight="normal" fill="#000" stroke="#000" stroke-width="0.09" >Median 8.1 years</text>
<text transform="translate(211.1,325.41) scale(0.9020,1)" x="0" y="0" font-size="6.0" text-anchor="middle" font-weight="normal" fill="#000" stroke="#000" stroke-width="0.09" >“Unfavorable” CI</text>
<text transform="translate(211.05,332.21) scale(0.9525,1)" x="0" y="0" font-size="6.0" text-anchor="middle" font-weight="normal" fill="#000" stroke="#000" stroke-width="0.09" >N=434</text>
<text transform="translate(211.05,339.21) scale(0.9126,1)" x="0" y="0" font-size="6.0" text-anchor="middle" font-weight="normal" fill="#000" stroke="#000" stroke-width="0.09" >Median 2.8 years</text>
<text transform="translate(210.8,345.71) scale(0.9173,1)" x="0" y="0" font-size="6.0" text-anchor="middle" font-weight="normal" fill="#000" stroke="#000" stroke-width="0.09" >HR 3.2, 95% CI 2.1-5.0</text>
<text transform="translate(231.9,34.92) scale(1.0395,1)" x="0" y="0" font-size="5.6" text-anchor="middle" font-weight="bold" fill="#000" >HR=2.6</text>
<text transform="translate(231.7,42.02) scale(0.9986,1)" x="0" y="0" font-size="5.6" text-anchor="middle" font-weight="bold" fill="#000" >95% CI 2.0-3.4</text>
<text transform="translate(483.95,35.62) scale(1.0343,1)" x="0" y="0" font-size="5.6" text-anchor="middle" font-weight="bold" fill="#000" >HR=2.0</text>
<text transform="translate(483.8,42.82) scale(0.9986,1)" x="0" y="0" font-size="5.6" text-anchor="middle" font-weight="bold" fill="#000" >95% CI 1.5-2.7</text>
<line x1="21" y1="24" x2="21" y2="372" stroke="#566579" stroke-width="2"/>
<line x1="20" y1="371" x2="505" y2="371" stroke="#50507d" stroke-width="2"/>
<text x="0" y="0" font-size="8.2" fill="#222" stroke="#222" stroke-width="0.25" text-anchor="middle" textLength="41.4" lengthAdjust="spacingAndGlyphs" transform="translate(15.1,197.4) rotate(-90)">Overall survival</text>
<text transform="translate(272.4,382.5) scale(0.6383,1)" x="0" y="0" font-size="9.2" text-anchor="middle" font-weight="normal" fill="#222" stroke="#222" stroke-width="0.3" >Years</text>
<rect x="0.75" y="0.75" width="518.25" height="387.25" fill="none" stroke="#000" stroke-width="1.6"/>
<line x1="519" y1="0" x2="519" y2="389" stroke="#000" stroke-width="2"/>
<line x1="0" y1="388" x2="520" y2="388" stroke="#000" stroke-width="2"/>
</svg></body></html>
